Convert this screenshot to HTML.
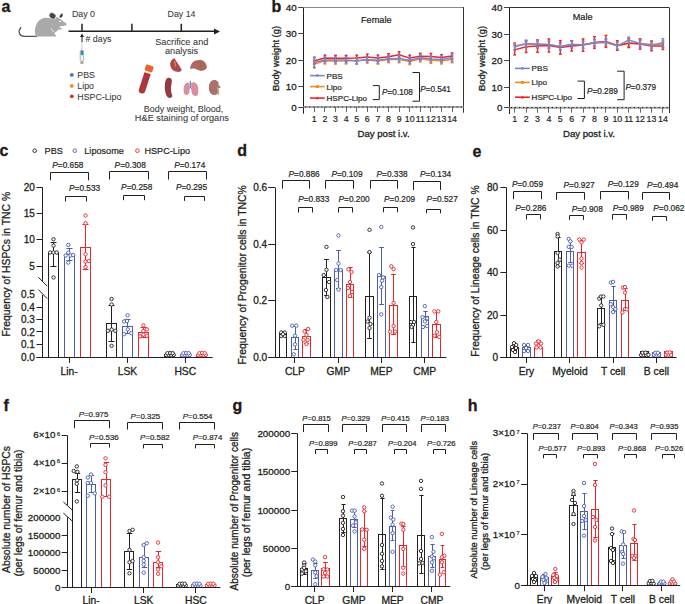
<!DOCTYPE html>
<html><head><meta charset="utf-8"><title>Figure</title>
<style>
html,body{margin:0;padding:0;background:#fff;width:685px;height:604px;overflow:hidden;}
svg{display:block;font-family:"Liberation Sans", sans-serif;}
</style></head><body>
<svg width="685" height="604" viewBox="0 0 685 604">
<rect width="685" height="604" fill="#fff"/>
<text x="1.50" y="12.30" font-size="16" text-anchor="start" font-weight="bold" fill="#231815" stroke="#231815" stroke-width="0.3" >a</text>
<path d="M36.5 36.3 L24.5 36.3 C19.5 36.3 17.5 31.5 20.8 27.6" stroke="#555" stroke-width="1.3" fill="none" stroke-linecap="round"/>
<path d="M36.4 36.6 C34.8 34.5 34.6 31 35.2 28.5 C36 23 39.5 18.5 44 17.9 C46 17.6 48 17.8 50 18.3 L55.5 18.8 C56 18 56.3 17.2 56.8 16.7 C59.5 18.5 63.5 21.5 66.6 23.8 C67.2 24.5 66.2 25.6 64.5 25.8 L59.5 26.5 C59.2 27.2 60.2 27.8 61.5 28.3 C62.5 28.8 62.2 29.6 61 29.5 L58.5 29.6 C57.5 30.5 56.5 31.5 55.2 32.3 C54.2 33.2 54.5 34.3 55.5 35 L56.2 35.4 L56.2 36.6 Z" fill="#a9a9a9"/>
<ellipse cx="52.5" cy="15.8" rx="3.6" ry="2.9" transform="rotate(35 52.5 15.8)" fill="#46464a" stroke="#fff" stroke-width="0.5"/>
<path d="M59.2 17.0 C59.5 15 61 13.6 62.6 13.4 C63.2 14.8 62.6 16.8 61.2 17.8 Z" fill="#46464a"/>
<ellipse cx="60.1" cy="21.4" rx="1.0" ry="0.7" fill="#fff"/>
<path d="M51.3 28.3 C51.6 30 52.5 31.2 54.0 31.7" stroke="#fff" stroke-width="0.7" fill="none"/>
<line x1="68.50" y1="31.30" x2="215.00" y2="31.30" stroke="#231f20" stroke-width="1.4" />
<path d="M214 28.4 L220 31.5 L214 34.6 Z" fill="#231f20"/>
<line x1="82.00" y1="23.80" x2="82.00" y2="31.30" stroke="#231f20" stroke-width="1.5" />
<line x1="131.90" y1="23.80" x2="131.90" y2="31.30" stroke="#231f20" stroke-width="1.5" />
<line x1="181.30" y1="23.80" x2="181.30" y2="31.30" stroke="#231f20" stroke-width="1.5" />
<text x="0" y="0" transform="translate(71.90,16.80) scale(0.9,1)" font-size="9.8" text-anchor="start" fill="#3a3a3a" stroke="#3a3a3a" stroke-width="0.08">Day 0</text>
<text x="0" y="0" transform="translate(167.60,16.80) scale(0.9,1)" font-size="9.8" text-anchor="start" fill="#3a3a3a" stroke="#3a3a3a" stroke-width="0.08">Day 14</text>
<line x1="82.00" y1="42.50" x2="82.00" y2="36.00" stroke="#231f20" stroke-width="1.0" />
<path d="M80.0 37 L82.0 33.6 L84.0 37 Z" fill="#231f20"/>
<text x="0" y="0" transform="translate(85.50,41.80) scale(0.9,1)" font-size="9.8" text-anchor="start" fill="#3a3a3a" stroke="#3a3a3a" stroke-width="0.08"># days</text>
<line x1="81.90" y1="44.00" x2="81.90" y2="50.50" stroke="#999" stroke-width="0.6" />
<rect x="80.2" y="50.4" width="3.4" height="11" rx="0.6" fill="#f2f2f2" stroke="#8a8a8a" stroke-width="0.6"/>
<rect x="80.7" y="50.9" width="2.4" height="4.2" fill="#2a8fb8"/>
<line x1="81.90" y1="61.40" x2="81.90" y2="62.80" stroke="#666" stroke-width="0.7" />
<line x1="80.30" y1="63.00" x2="83.50" y2="63.00" stroke="#555" stroke-width="0.9" />
<circle cx="71.80" cy="74.90" r="1.9" stroke="#3a7dc9" stroke-width="0" fill="#3a7dc9"/>
<text x="0" y="0" transform="translate(77.30,78.40) scale(0.9,1)" font-size="9.8" text-anchor="start" fill="#3a3a3a" stroke="#3a3a3a" stroke-width="0.08">PBS</text>
<circle cx="71.80" cy="85.90" r="1.9" stroke="#ef8a2c" stroke-width="0" fill="#ef8a2c"/>
<text x="0" y="0" transform="translate(77.30,89.40) scale(0.9,1)" font-size="9.8" text-anchor="start" fill="#3a3a3a" stroke="#3a3a3a" stroke-width="0.08">Lipo</text>
<circle cx="71.80" cy="96.30" r="1.9" stroke="#c9383a" stroke-width="0" fill="#c9383a"/>
<text x="0" y="0" transform="translate(77.30,99.80) scale(0.9,1)" font-size="9.8" text-anchor="start" fill="#3a3a3a" stroke="#3a3a3a" stroke-width="0.08">HSPC-Lipo</text>
<text x="0" y="0" transform="translate(181.80,44.90) scale(0.93,1)" font-size="9.9" text-anchor="middle" fill="#3a3a3a" stroke="#3a3a3a" stroke-width="0.08">Sacrifice and</text>
<text x="0" y="0" transform="translate(181.60,53.50) scale(0.93,1)" font-size="9.9" text-anchor="middle" fill="#3a3a3a" stroke="#3a3a3a" stroke-width="0.08">analysis</text>
<g transform="translate(145.3,80.3) rotate(18)"><rect x="-3.3" y="-10" width="6.6" height="23.6" rx="3.2" fill="#ab383d"/><rect x="-3.3" y="-10" width="6.6" height="2.6" fill="#f1e8e6"/><rect x="-4.0" y="-15.6" width="8.0" height="6.2" rx="1.2" fill="#e2682c"/></g>
<path d="M174.5 58.3 L181.6 69.6 C181.9 71.5 179.5 72.2 177 71.8 C173 71.2 170.3 68 170.2 64.5 C170.1 61.5 172 59 174.5 58.3 Z" fill="#ad474d"/>
<path d="M174.3 60.8 C175.2 62.5 175.6 64.5 175.2 66.5" stroke="#d99a52" stroke-width="1.1" fill="none"/>
<path d="M190 69 C190.5 65 192 62 195 60.8 C198 59.6 201.5 59.6 203.5 61 C205.5 62.5 207 65.5 206.8 67.5 C206.5 69.5 203.5 71 200.5 70.8 C198 70.5 196.5 69.2 194.5 68.6 C192.5 68.2 191 68.5 190 69 Z" fill="#a86a60"/>
<path d="M200.8 60.2 C201.2 63 200.8 66 200.2 70.5" stroke="#965a52" stroke-width="0.5" fill="none"/>
<path d="M168 77.8 C171.5 77 172.5 80 171.5 84 C170.5 88 170.8 92 172.3 95.5 C172.5 97.8 170 98.5 168 97.5 C165.5 95 164.6 90 164.8 85.5 C165 81 166 78.5 168 77.8 Z" fill="#8f3c42"/>
<path d="M189.4 83.2 C187.2 81.4 184.6 83.3 183.9 86.8 C183.3 90.4 183.5 94 185.5 94.8 C187.4 95.3 189.2 94.2 189.5 91.5 Z" fill="#d98f9b"/>
<path d="M191.1 83.0 C193.2 81.3 197.0 82.4 197.9 86.4 C198.7 90.4 198.5 95.0 196.5 95.8 C194.2 96.3 192.0 94.6 191.6 92.2 C191.3 90.2 191.6 88.2 191.1 86.2 Z" fill="#d98f9b"/>
<path d="M190.3 80.8 V87.4 M190.3 87.4 L188.9 88.6 M190.3 87.4 L191.8 88.6" stroke="#3f63b5" stroke-width="0.9" fill="none"/>
<path d="M213.8 80.0 C217.3 79.7 219.2 82.3 218.7 85.2 C218.3 86.4 217.2 86.8 217.3 87.8 C217.5 89 218.6 89.8 218.6 91.5 C218.5 94 216.2 95.2 213.5 94.9 C210.5 94.6 208.9 91.5 208.9 87.8 C208.9 83.5 210.6 80.3 213.8 80.0 Z" fill="#a8736a"/>
<path d="M217.6 86.4 L220.3 86.2" stroke="#d23a3a" stroke-width="0.9" fill="none"/>
<path d="M217.6 87.6 L220.3 87.6" stroke="#4a55b8" stroke-width="0.9" fill="none"/>
<path d="M218.4 88.3 L218.6 95.0" stroke="#d8b66a" stroke-width="1.4" fill="none"/>
<text x="0" y="0" transform="translate(183.40,111.70) scale(0.91,1)" font-size="9.9" text-anchor="middle" fill="#3a3a3a" stroke="#3a3a3a" stroke-width="0.08">Body weight, Blood,</text>
<text x="0" y="0" transform="translate(181.90,121.40) scale(0.93,1)" font-size="9.9" text-anchor="middle" fill="#3a3a3a" stroke="#3a3a3a" stroke-width="0.08">H&amp;E staining of organs</text>
<text x="271.40" y="11.90" font-size="16" text-anchor="start" font-weight="bold" fill="#231815" stroke="#231815" stroke-width="0.3" >b</text>
<line x1="303.50" y1="7.00" x2="303.50" y2="113.70" stroke="#231f20" stroke-width="1.0" />
<line x1="298.30" y1="7.50" x2="463.40" y2="7.50" stroke="#8a8a8a" stroke-width="1.0" />
<line x1="463.50" y1="7.00" x2="463.50" y2="112.70" stroke="#333" stroke-width="1.0" />
<line x1="303.50" y1="107.00" x2="463.40" y2="107.00" stroke="#a8a8a8" stroke-width="2.0" />
<line x1="305.00" y1="107.00" x2="463.40" y2="107.00" stroke="#231f20" stroke-width="1.2" stroke-dasharray="1.2 2.9"/>
<line x1="298.30" y1="7.50" x2="303.50" y2="7.50" stroke="#444" stroke-width="1.0" />
<text x="296.70" y="10.50" font-size="9.8" text-anchor="end" font-weight="normal" fill="#231f20" stroke="#231f20" stroke-width="0.3" >40</text>
<line x1="298.30" y1="33.50" x2="303.50" y2="33.50" stroke="#444" stroke-width="1.0" />
<text x="296.70" y="36.70" font-size="9.8" text-anchor="end" font-weight="normal" fill="#231f20" stroke="#231f20" stroke-width="0.3" >30</text>
<line x1="298.30" y1="60.50" x2="303.50" y2="60.50" stroke="#444" stroke-width="1.0" />
<text x="296.70" y="63.90" font-size="9.8" text-anchor="end" font-weight="normal" fill="#231f20" stroke="#231f20" stroke-width="0.3" >20</text>
<line x1="298.30" y1="86.50" x2="303.50" y2="86.50" stroke="#444" stroke-width="1.0" />
<text x="296.70" y="90.30" font-size="9.8" text-anchor="end" font-weight="normal" fill="#231f20" stroke="#231f20" stroke-width="0.3" >10</text>
<line x1="298.30" y1="107.50" x2="303.50" y2="107.50" stroke="#444" stroke-width="1.0" />
<text x="296.70" y="110.50" font-size="9.8" text-anchor="end" font-weight="normal" fill="#231f20" stroke="#231f20" stroke-width="0.3" >0</text>
<line x1="314.50" y1="107.00" x2="314.50" y2="112.00" stroke="#555" stroke-width="0.9" />
<text x="314.30" y="121.60" font-size="8.8" text-anchor="middle" font-weight="normal" fill="#231f20" stroke="#231f20" stroke-width="0.2" >1</text>
<line x1="324.50" y1="107.00" x2="324.50" y2="112.00" stroke="#555" stroke-width="0.9" />
<text x="324.90" y="121.60" font-size="8.8" text-anchor="middle" font-weight="normal" fill="#231f20" stroke="#231f20" stroke-width="0.2" >2</text>
<line x1="335.50" y1="107.00" x2="335.50" y2="112.00" stroke="#555" stroke-width="0.9" />
<text x="335.50" y="121.60" font-size="8.8" text-anchor="middle" font-weight="normal" fill="#231f20" stroke="#231f20" stroke-width="0.2" >3</text>
<line x1="346.50" y1="107.00" x2="346.50" y2="112.00" stroke="#555" stroke-width="0.9" />
<text x="346.10" y="121.60" font-size="8.8" text-anchor="middle" font-weight="normal" fill="#231f20" stroke="#231f20" stroke-width="0.2" >4</text>
<line x1="356.50" y1="107.00" x2="356.50" y2="112.00" stroke="#555" stroke-width="0.9" />
<text x="356.70" y="121.60" font-size="8.8" text-anchor="middle" font-weight="normal" fill="#231f20" stroke="#231f20" stroke-width="0.2" >5</text>
<line x1="367.50" y1="107.00" x2="367.50" y2="112.00" stroke="#555" stroke-width="0.9" />
<text x="367.30" y="121.60" font-size="8.8" text-anchor="middle" font-weight="normal" fill="#231f20" stroke="#231f20" stroke-width="0.2" >6</text>
<line x1="377.50" y1="107.00" x2="377.50" y2="112.00" stroke="#555" stroke-width="0.9" />
<text x="377.90" y="121.60" font-size="8.8" text-anchor="middle" font-weight="normal" fill="#231f20" stroke="#231f20" stroke-width="0.2" >7</text>
<line x1="388.50" y1="107.00" x2="388.50" y2="112.00" stroke="#555" stroke-width="0.9" />
<text x="388.50" y="121.60" font-size="8.8" text-anchor="middle" font-weight="normal" fill="#231f20" stroke="#231f20" stroke-width="0.2" >8</text>
<line x1="399.50" y1="107.00" x2="399.50" y2="112.00" stroke="#555" stroke-width="0.9" />
<text x="399.10" y="121.60" font-size="8.8" text-anchor="middle" font-weight="normal" fill="#231f20" stroke="#231f20" stroke-width="0.2" >9</text>
<line x1="409.50" y1="107.00" x2="409.50" y2="112.00" stroke="#555" stroke-width="0.9" />
<text x="409.70" y="121.60" font-size="8.8" text-anchor="middle" font-weight="normal" fill="#231f20" stroke="#231f20" stroke-width="0.2" >10</text>
<line x1="420.50" y1="107.00" x2="420.50" y2="112.00" stroke="#555" stroke-width="0.9" />
<text x="420.30" y="121.60" font-size="8.8" text-anchor="middle" font-weight="normal" fill="#231f20" stroke="#231f20" stroke-width="0.2" >11</text>
<line x1="430.50" y1="107.00" x2="430.50" y2="112.00" stroke="#555" stroke-width="0.9" />
<text x="430.90" y="121.60" font-size="8.8" text-anchor="middle" font-weight="normal" fill="#231f20" stroke="#231f20" stroke-width="0.2" >12</text>
<line x1="441.50" y1="107.00" x2="441.50" y2="112.00" stroke="#555" stroke-width="0.9" />
<text x="441.50" y="121.60" font-size="8.8" text-anchor="middle" font-weight="normal" fill="#231f20" stroke="#231f20" stroke-width="0.2" >13</text>
<line x1="452.50" y1="107.00" x2="452.50" y2="112.00" stroke="#555" stroke-width="0.9" />
<text x="452.10" y="121.60" font-size="8.8" text-anchor="middle" font-weight="normal" fill="#231f20" stroke="#231f20" stroke-width="0.2" >14</text>
<text x="383.60" y="137.20" font-size="9.6" text-anchor="middle" font-weight="normal" fill="#231f20" stroke="#231f20" stroke-width="0.3" >Day post i.v.</text>
<text x="376.30" y="22.50" font-size="9.2" text-anchor="middle" font-weight="normal" fill="#231f20" stroke="#231f20" stroke-width="0.2" >Female</text>
<text x="0" y="0" font-size="9.4" text-anchor="middle" fill="#231f20" stroke="#231f20" stroke-width="0.3" transform="translate(279.30,58.50) rotate(-90)">Body weight (g)</text>
<line x1="314.30" y1="60.80" x2="314.30" y2="67.20" stroke="#f5891f" stroke-width="1.4" />
<line x1="312.90" y1="60.80" x2="315.70" y2="60.80" stroke="#f5891f" stroke-width="1.4" />
<line x1="312.90" y1="67.20" x2="315.70" y2="67.20" stroke="#f5891f" stroke-width="1.4" />
<line x1="324.90" y1="57.60" x2="324.90" y2="64.00" stroke="#f5891f" stroke-width="1.4" />
<line x1="323.50" y1="57.60" x2="326.30" y2="57.60" stroke="#f5891f" stroke-width="1.4" />
<line x1="323.50" y1="64.00" x2="326.30" y2="64.00" stroke="#f5891f" stroke-width="1.4" />
<line x1="335.50" y1="57.80" x2="335.50" y2="64.20" stroke="#f5891f" stroke-width="1.4" />
<line x1="334.10" y1="57.80" x2="336.90" y2="57.80" stroke="#f5891f" stroke-width="1.4" />
<line x1="334.10" y1="64.20" x2="336.90" y2="64.20" stroke="#f5891f" stroke-width="1.4" />
<line x1="346.10" y1="57.60" x2="346.10" y2="64.00" stroke="#f5891f" stroke-width="1.4" />
<line x1="344.70" y1="57.60" x2="347.50" y2="57.60" stroke="#f5891f" stroke-width="1.4" />
<line x1="344.70" y1="64.00" x2="347.50" y2="64.00" stroke="#f5891f" stroke-width="1.4" />
<line x1="356.70" y1="57.30" x2="356.70" y2="63.70" stroke="#f5891f" stroke-width="1.4" />
<line x1="355.30" y1="57.30" x2="358.10" y2="57.30" stroke="#f5891f" stroke-width="1.4" />
<line x1="355.30" y1="63.70" x2="358.10" y2="63.70" stroke="#f5891f" stroke-width="1.4" />
<line x1="367.30" y1="56.80" x2="367.30" y2="63.20" stroke="#f5891f" stroke-width="1.4" />
<line x1="365.90" y1="56.80" x2="368.70" y2="56.80" stroke="#f5891f" stroke-width="1.4" />
<line x1="365.90" y1="63.20" x2="368.70" y2="63.20" stroke="#f5891f" stroke-width="1.4" />
<line x1="377.90" y1="57.80" x2="377.90" y2="64.20" stroke="#f5891f" stroke-width="1.4" />
<line x1="376.50" y1="57.80" x2="379.30" y2="57.80" stroke="#f5891f" stroke-width="1.4" />
<line x1="376.50" y1="64.20" x2="379.30" y2="64.20" stroke="#f5891f" stroke-width="1.4" />
<line x1="388.50" y1="56.30" x2="388.50" y2="62.70" stroke="#f5891f" stroke-width="1.4" />
<line x1="387.10" y1="56.30" x2="389.90" y2="56.30" stroke="#f5891f" stroke-width="1.4" />
<line x1="387.10" y1="62.70" x2="389.90" y2="62.70" stroke="#f5891f" stroke-width="1.4" />
<line x1="399.10" y1="56.30" x2="399.10" y2="62.70" stroke="#f5891f" stroke-width="1.4" />
<line x1="397.70" y1="56.30" x2="400.50" y2="56.30" stroke="#f5891f" stroke-width="1.4" />
<line x1="397.70" y1="62.70" x2="400.50" y2="62.70" stroke="#f5891f" stroke-width="1.4" />
<line x1="409.70" y1="58.20" x2="409.70" y2="64.60" stroke="#f5891f" stroke-width="1.4" />
<line x1="408.30" y1="58.20" x2="411.10" y2="58.20" stroke="#f5891f" stroke-width="1.4" />
<line x1="408.30" y1="64.60" x2="411.10" y2="64.60" stroke="#f5891f" stroke-width="1.4" />
<line x1="420.30" y1="55.60" x2="420.30" y2="62.00" stroke="#f5891f" stroke-width="1.4" />
<line x1="418.90" y1="55.60" x2="421.70" y2="55.60" stroke="#f5891f" stroke-width="1.4" />
<line x1="418.90" y1="62.00" x2="421.70" y2="62.00" stroke="#f5891f" stroke-width="1.4" />
<line x1="430.90" y1="57.00" x2="430.90" y2="63.40" stroke="#f5891f" stroke-width="1.4" />
<line x1="429.50" y1="57.00" x2="432.30" y2="57.00" stroke="#f5891f" stroke-width="1.4" />
<line x1="429.50" y1="63.40" x2="432.30" y2="63.40" stroke="#f5891f" stroke-width="1.4" />
<line x1="441.50" y1="57.60" x2="441.50" y2="64.00" stroke="#f5891f" stroke-width="1.4" />
<line x1="440.10" y1="57.60" x2="442.90" y2="57.60" stroke="#f5891f" stroke-width="1.4" />
<line x1="440.10" y1="64.00" x2="442.90" y2="64.00" stroke="#f5891f" stroke-width="1.4" />
<line x1="452.10" y1="56.40" x2="452.10" y2="62.80" stroke="#f5891f" stroke-width="1.4" />
<line x1="450.70" y1="56.40" x2="453.50" y2="56.40" stroke="#f5891f" stroke-width="1.4" />
<line x1="450.70" y1="62.80" x2="453.50" y2="62.80" stroke="#f5891f" stroke-width="1.4" />
<polyline points="314.30,64.00 324.90,60.80 335.50,61.00 346.10,60.80 356.70,60.50 367.30,60.00 377.90,61.00 388.50,59.50 399.10,59.50 409.70,61.40 420.30,58.80 430.90,60.20 441.50,60.80 452.10,59.60" stroke="#f5891f" stroke-width="1.5" fill="none" />
<circle cx="314.30" cy="64.00" r="1.1" stroke="#f5891f" stroke-width="0" fill="#f5891f"/>
<circle cx="324.90" cy="60.80" r="1.1" stroke="#f5891f" stroke-width="0" fill="#f5891f"/>
<circle cx="335.50" cy="61.00" r="1.1" stroke="#f5891f" stroke-width="0" fill="#f5891f"/>
<circle cx="346.10" cy="60.80" r="1.1" stroke="#f5891f" stroke-width="0" fill="#f5891f"/>
<circle cx="356.70" cy="60.50" r="1.1" stroke="#f5891f" stroke-width="0" fill="#f5891f"/>
<circle cx="367.30" cy="60.00" r="1.1" stroke="#f5891f" stroke-width="0" fill="#f5891f"/>
<circle cx="377.90" cy="61.00" r="1.1" stroke="#f5891f" stroke-width="0" fill="#f5891f"/>
<circle cx="388.50" cy="59.50" r="1.1" stroke="#f5891f" stroke-width="0" fill="#f5891f"/>
<circle cx="399.10" cy="59.50" r="1.1" stroke="#f5891f" stroke-width="0" fill="#f5891f"/>
<circle cx="409.70" cy="61.40" r="1.1" stroke="#f5891f" stroke-width="0" fill="#f5891f"/>
<circle cx="420.30" cy="58.80" r="1.1" stroke="#f5891f" stroke-width="0" fill="#f5891f"/>
<circle cx="430.90" cy="60.20" r="1.1" stroke="#f5891f" stroke-width="0" fill="#f5891f"/>
<circle cx="441.50" cy="60.80" r="1.1" stroke="#f5891f" stroke-width="0" fill="#f5891f"/>
<circle cx="452.10" cy="59.60" r="1.1" stroke="#f5891f" stroke-width="0" fill="#f5891f"/>
<line x1="314.30" y1="57.80" x2="314.30" y2="63.80" stroke="#e8262b" stroke-width="1.4" />
<line x1="312.90" y1="57.80" x2="315.70" y2="57.80" stroke="#e8262b" stroke-width="1.4" />
<line x1="312.90" y1="63.80" x2="315.70" y2="63.80" stroke="#e8262b" stroke-width="1.4" />
<line x1="324.90" y1="55.10" x2="324.90" y2="61.10" stroke="#e8262b" stroke-width="1.4" />
<line x1="323.50" y1="55.10" x2="326.30" y2="55.10" stroke="#e8262b" stroke-width="1.4" />
<line x1="323.50" y1="61.10" x2="326.30" y2="61.10" stroke="#e8262b" stroke-width="1.4" />
<line x1="335.50" y1="55.30" x2="335.50" y2="61.30" stroke="#e8262b" stroke-width="1.4" />
<line x1="334.10" y1="55.30" x2="336.90" y2="55.30" stroke="#e8262b" stroke-width="1.4" />
<line x1="334.10" y1="61.30" x2="336.90" y2="61.30" stroke="#e8262b" stroke-width="1.4" />
<line x1="346.10" y1="55.30" x2="346.10" y2="61.30" stroke="#e8262b" stroke-width="1.4" />
<line x1="344.70" y1="55.30" x2="347.50" y2="55.30" stroke="#e8262b" stroke-width="1.4" />
<line x1="344.70" y1="61.30" x2="347.50" y2="61.30" stroke="#e8262b" stroke-width="1.4" />
<line x1="356.70" y1="55.10" x2="356.70" y2="61.10" stroke="#e8262b" stroke-width="1.4" />
<line x1="355.30" y1="55.10" x2="358.10" y2="55.10" stroke="#e8262b" stroke-width="1.4" />
<line x1="355.30" y1="61.10" x2="358.10" y2="61.10" stroke="#e8262b" stroke-width="1.4" />
<line x1="367.30" y1="54.10" x2="367.30" y2="60.10" stroke="#e8262b" stroke-width="1.4" />
<line x1="365.90" y1="54.10" x2="368.70" y2="54.10" stroke="#e8262b" stroke-width="1.4" />
<line x1="365.90" y1="60.10" x2="368.70" y2="60.10" stroke="#e8262b" stroke-width="1.4" />
<line x1="377.90" y1="55.00" x2="377.90" y2="61.00" stroke="#e8262b" stroke-width="1.4" />
<line x1="376.50" y1="55.00" x2="379.30" y2="55.00" stroke="#e8262b" stroke-width="1.4" />
<line x1="376.50" y1="61.00" x2="379.30" y2="61.00" stroke="#e8262b" stroke-width="1.4" />
<line x1="388.50" y1="53.70" x2="388.50" y2="59.70" stroke="#e8262b" stroke-width="1.4" />
<line x1="387.10" y1="53.70" x2="389.90" y2="53.70" stroke="#e8262b" stroke-width="1.4" />
<line x1="387.10" y1="59.70" x2="389.90" y2="59.70" stroke="#e8262b" stroke-width="1.4" />
<line x1="399.10" y1="51.70" x2="399.10" y2="57.70" stroke="#e8262b" stroke-width="1.4" />
<line x1="397.70" y1="51.70" x2="400.50" y2="51.70" stroke="#e8262b" stroke-width="1.4" />
<line x1="397.70" y1="57.70" x2="400.50" y2="57.70" stroke="#e8262b" stroke-width="1.4" />
<line x1="409.70" y1="55.10" x2="409.70" y2="61.10" stroke="#e8262b" stroke-width="1.4" />
<line x1="408.30" y1="55.10" x2="411.10" y2="55.10" stroke="#e8262b" stroke-width="1.4" />
<line x1="408.30" y1="61.10" x2="411.10" y2="61.10" stroke="#e8262b" stroke-width="1.4" />
<line x1="420.30" y1="53.30" x2="420.30" y2="59.30" stroke="#e8262b" stroke-width="1.4" />
<line x1="418.90" y1="53.30" x2="421.70" y2="53.30" stroke="#e8262b" stroke-width="1.4" />
<line x1="418.90" y1="59.30" x2="421.70" y2="59.30" stroke="#e8262b" stroke-width="1.4" />
<line x1="430.90" y1="53.50" x2="430.90" y2="59.50" stroke="#e8262b" stroke-width="1.4" />
<line x1="429.50" y1="53.50" x2="432.30" y2="53.50" stroke="#e8262b" stroke-width="1.4" />
<line x1="429.50" y1="59.50" x2="432.30" y2="59.50" stroke="#e8262b" stroke-width="1.4" />
<line x1="441.50" y1="54.60" x2="441.50" y2="60.60" stroke="#e8262b" stroke-width="1.4" />
<line x1="440.10" y1="54.60" x2="442.90" y2="54.60" stroke="#e8262b" stroke-width="1.4" />
<line x1="440.10" y1="60.60" x2="442.90" y2="60.60" stroke="#e8262b" stroke-width="1.4" />
<line x1="452.10" y1="52.90" x2="452.10" y2="58.90" stroke="#e8262b" stroke-width="1.4" />
<line x1="450.70" y1="52.90" x2="453.50" y2="52.90" stroke="#e8262b" stroke-width="1.4" />
<line x1="450.70" y1="58.90" x2="453.50" y2="58.90" stroke="#e8262b" stroke-width="1.4" />
<polyline points="314.30,60.80 324.90,58.10 335.50,58.30 346.10,58.30 356.70,58.10 367.30,57.10 377.90,58.00 388.50,56.70 399.10,54.70 409.70,58.10 420.30,56.30 430.90,56.50 441.50,57.60 452.10,55.90" stroke="#e8262b" stroke-width="1.5" fill="none" />
<circle cx="314.30" cy="60.80" r="1.1" stroke="#e8262b" stroke-width="0" fill="#e8262b"/>
<circle cx="324.90" cy="58.10" r="1.1" stroke="#e8262b" stroke-width="0" fill="#e8262b"/>
<circle cx="335.50" cy="58.30" r="1.1" stroke="#e8262b" stroke-width="0" fill="#e8262b"/>
<circle cx="346.10" cy="58.30" r="1.1" stroke="#e8262b" stroke-width="0" fill="#e8262b"/>
<circle cx="356.70" cy="58.10" r="1.1" stroke="#e8262b" stroke-width="0" fill="#e8262b"/>
<circle cx="367.30" cy="57.10" r="1.1" stroke="#e8262b" stroke-width="0" fill="#e8262b"/>
<circle cx="377.90" cy="58.00" r="1.1" stroke="#e8262b" stroke-width="0" fill="#e8262b"/>
<circle cx="388.50" cy="56.70" r="1.1" stroke="#e8262b" stroke-width="0" fill="#e8262b"/>
<circle cx="399.10" cy="54.70" r="1.1" stroke="#e8262b" stroke-width="0" fill="#e8262b"/>
<circle cx="409.70" cy="58.10" r="1.1" stroke="#e8262b" stroke-width="0" fill="#e8262b"/>
<circle cx="420.30" cy="56.30" r="1.1" stroke="#e8262b" stroke-width="0" fill="#e8262b"/>
<circle cx="430.90" cy="56.50" r="1.1" stroke="#e8262b" stroke-width="0" fill="#e8262b"/>
<circle cx="441.50" cy="57.60" r="1.1" stroke="#e8262b" stroke-width="0" fill="#e8262b"/>
<circle cx="452.10" cy="55.90" r="1.1" stroke="#e8262b" stroke-width="0" fill="#e8262b"/>
<line x1="314.30" y1="57.00" x2="314.30" y2="68.00" stroke="#7b86cf" stroke-width="1.4" />
<line x1="312.90" y1="57.00" x2="315.70" y2="57.00" stroke="#7b86cf" stroke-width="1.4" />
<line x1="312.90" y1="68.00" x2="315.70" y2="68.00" stroke="#7b86cf" stroke-width="1.4" />
<line x1="324.90" y1="57.00" x2="324.90" y2="63.00" stroke="#7b86cf" stroke-width="1.4" />
<line x1="323.50" y1="57.00" x2="326.30" y2="57.00" stroke="#7b86cf" stroke-width="1.4" />
<line x1="323.50" y1="63.00" x2="326.30" y2="63.00" stroke="#7b86cf" stroke-width="1.4" />
<line x1="335.50" y1="57.00" x2="335.50" y2="63.00" stroke="#7b86cf" stroke-width="1.4" />
<line x1="334.10" y1="57.00" x2="336.90" y2="57.00" stroke="#7b86cf" stroke-width="1.4" />
<line x1="334.10" y1="63.00" x2="336.90" y2="63.00" stroke="#7b86cf" stroke-width="1.4" />
<line x1="346.10" y1="57.00" x2="346.10" y2="63.00" stroke="#7b86cf" stroke-width="1.4" />
<line x1="344.70" y1="57.00" x2="347.50" y2="57.00" stroke="#7b86cf" stroke-width="1.4" />
<line x1="344.70" y1="63.00" x2="347.50" y2="63.00" stroke="#7b86cf" stroke-width="1.4" />
<line x1="356.70" y1="57.80" x2="356.70" y2="64.20" stroke="#7b86cf" stroke-width="1.4" />
<line x1="355.30" y1="57.80" x2="358.10" y2="57.80" stroke="#7b86cf" stroke-width="1.4" />
<line x1="355.30" y1="64.20" x2="358.10" y2="64.20" stroke="#7b86cf" stroke-width="1.4" />
<line x1="367.30" y1="57.00" x2="367.30" y2="62.00" stroke="#7b86cf" stroke-width="1.4" />
<line x1="365.90" y1="57.00" x2="368.70" y2="57.00" stroke="#7b86cf" stroke-width="1.4" />
<line x1="365.90" y1="62.00" x2="368.70" y2="62.00" stroke="#7b86cf" stroke-width="1.4" />
<line x1="377.90" y1="57.30" x2="377.90" y2="63.30" stroke="#7b86cf" stroke-width="1.4" />
<line x1="376.50" y1="57.30" x2="379.30" y2="57.30" stroke="#7b86cf" stroke-width="1.4" />
<line x1="376.50" y1="63.30" x2="379.30" y2="63.30" stroke="#7b86cf" stroke-width="1.4" />
<line x1="388.50" y1="55.80" x2="388.50" y2="61.80" stroke="#7b86cf" stroke-width="1.4" />
<line x1="387.10" y1="55.80" x2="389.90" y2="55.80" stroke="#7b86cf" stroke-width="1.4" />
<line x1="387.10" y1="61.80" x2="389.90" y2="61.80" stroke="#7b86cf" stroke-width="1.4" />
<line x1="399.10" y1="54.90" x2="399.10" y2="61.90" stroke="#7b86cf" stroke-width="1.4" />
<line x1="397.70" y1="54.90" x2="400.50" y2="54.90" stroke="#7b86cf" stroke-width="1.4" />
<line x1="397.70" y1="61.90" x2="400.50" y2="61.90" stroke="#7b86cf" stroke-width="1.4" />
<line x1="409.70" y1="57.00" x2="409.70" y2="63.40" stroke="#7b86cf" stroke-width="1.4" />
<line x1="408.30" y1="57.00" x2="411.10" y2="57.00" stroke="#7b86cf" stroke-width="1.4" />
<line x1="408.30" y1="63.40" x2="411.10" y2="63.40" stroke="#7b86cf" stroke-width="1.4" />
<line x1="420.30" y1="54.80" x2="420.30" y2="60.80" stroke="#7b86cf" stroke-width="1.4" />
<line x1="418.90" y1="54.80" x2="421.70" y2="54.80" stroke="#7b86cf" stroke-width="1.4" />
<line x1="418.90" y1="60.80" x2="421.70" y2="60.80" stroke="#7b86cf" stroke-width="1.4" />
<line x1="430.90" y1="56.00" x2="430.90" y2="62.00" stroke="#7b86cf" stroke-width="1.4" />
<line x1="429.50" y1="56.00" x2="432.30" y2="56.00" stroke="#7b86cf" stroke-width="1.4" />
<line x1="429.50" y1="62.00" x2="432.30" y2="62.00" stroke="#7b86cf" stroke-width="1.4" />
<line x1="441.50" y1="56.60" x2="441.50" y2="62.60" stroke="#7b86cf" stroke-width="1.4" />
<line x1="440.10" y1="56.60" x2="442.90" y2="56.60" stroke="#7b86cf" stroke-width="1.4" />
<line x1="440.10" y1="62.60" x2="442.90" y2="62.60" stroke="#7b86cf" stroke-width="1.4" />
<line x1="452.10" y1="54.00" x2="452.10" y2="61.60" stroke="#7b86cf" stroke-width="1.4" />
<line x1="450.70" y1="54.00" x2="453.50" y2="54.00" stroke="#7b86cf" stroke-width="1.4" />
<line x1="450.70" y1="61.60" x2="453.50" y2="61.60" stroke="#7b86cf" stroke-width="1.4" />
<polyline points="314.30,62.50 324.90,60.00 335.50,60.00 346.10,60.00 356.70,61.00 367.30,59.50 377.90,60.30 388.50,58.80 399.10,58.40 409.70,60.20 420.30,57.80 430.90,59.00 441.50,59.60 452.10,57.80" stroke="#7b86cf" stroke-width="1.5" fill="none" />
<circle cx="314.30" cy="62.50" r="1.1" stroke="#7b86cf" stroke-width="0" fill="#7b86cf"/>
<circle cx="324.90" cy="60.00" r="1.1" stroke="#7b86cf" stroke-width="0" fill="#7b86cf"/>
<circle cx="335.50" cy="60.00" r="1.1" stroke="#7b86cf" stroke-width="0" fill="#7b86cf"/>
<circle cx="346.10" cy="60.00" r="1.1" stroke="#7b86cf" stroke-width="0" fill="#7b86cf"/>
<circle cx="356.70" cy="61.00" r="1.1" stroke="#7b86cf" stroke-width="0" fill="#7b86cf"/>
<circle cx="367.30" cy="59.50" r="1.1" stroke="#7b86cf" stroke-width="0" fill="#7b86cf"/>
<circle cx="377.90" cy="60.30" r="1.1" stroke="#7b86cf" stroke-width="0" fill="#7b86cf"/>
<circle cx="388.50" cy="58.80" r="1.1" stroke="#7b86cf" stroke-width="0" fill="#7b86cf"/>
<circle cx="399.10" cy="58.40" r="1.1" stroke="#7b86cf" stroke-width="0" fill="#7b86cf"/>
<circle cx="409.70" cy="60.20" r="1.1" stroke="#7b86cf" stroke-width="0" fill="#7b86cf"/>
<circle cx="420.30" cy="57.80" r="1.1" stroke="#7b86cf" stroke-width="0" fill="#7b86cf"/>
<circle cx="430.90" cy="59.00" r="1.1" stroke="#7b86cf" stroke-width="0" fill="#7b86cf"/>
<circle cx="441.50" cy="59.60" r="1.1" stroke="#7b86cf" stroke-width="0" fill="#7b86cf"/>
<circle cx="452.10" cy="57.80" r="1.1" stroke="#7b86cf" stroke-width="0" fill="#7b86cf"/>
<line x1="310.00" y1="75.60" x2="324.70" y2="75.60" stroke="#7b86cf" stroke-width="1.6" />
<circle cx="317.35" cy="75.60" r="1.3" stroke="#7b86cf" stroke-width="0" fill="#7b86cf"/>
<text x="326.50" y="78.50" font-size="8.1" text-anchor="start" font-weight="normal" fill="#231f20" stroke="#231f20" stroke-width="0.2" >PBS</text>
<line x1="310.00" y1="86.60" x2="324.70" y2="86.60" stroke="#f5891f" stroke-width="1.6" />
<rect x="315.95" y="85.20" width="2.8" height="2.8" fill="#f5891f"/>
<text x="326.50" y="89.50" font-size="8.1" text-anchor="start" font-weight="normal" fill="#231f20" stroke="#231f20" stroke-width="0.2" >Lipo</text>
<line x1="310.00" y1="98.10" x2="324.70" y2="98.10" stroke="#e8262b" stroke-width="1.6" />
<path d="M315.75 99.30 L317.35 96.50 L318.95 99.30 Z" fill="#e8262b"/>
<text x="326.50" y="101.00" font-size="8.1" text-anchor="start" font-weight="normal" fill="#231f20" stroke="#231f20" stroke-width="0.2" >HSPC-Lipo</text>
<polyline points="372.80,85.60 379.30,85.60 379.30,99.60 372.80,99.60" stroke="#231f20" stroke-width="1.0" fill="none" />
<text x="382.10" y="95.00" font-size="8.2" text-anchor="start" fill="#231f20" stroke="#231f20" stroke-width="0.2"><tspan font-style="italic">P</tspan>=0.108</text>
<polyline points="412.50,72.50 419.50,72.50 419.50,101.20 412.50,101.20" stroke="#231f20" stroke-width="1.0" fill="none" />
<text x="420.20" y="91.50" font-size="8.2" text-anchor="start" fill="#231f20" stroke="#231f20" stroke-width="0.2"><tspan font-style="italic">P</tspan>=0.541</text>
<line x1="509.50" y1="7.40" x2="509.50" y2="114.00" stroke="#231f20" stroke-width="1.0" />
<line x1="504.10" y1="7.50" x2="669.00" y2="7.50" stroke="#333" stroke-width="1.0" />
<line x1="669.50" y1="7.40" x2="669.50" y2="113.00" stroke="#333" stroke-width="1.0" />
<line x1="509.30" y1="107.70" x2="669.00" y2="107.70" stroke="#a8a8a8" stroke-width="2.0" />
<line x1="510.80" y1="107.70" x2="669.00" y2="107.70" stroke="#231f20" stroke-width="1.2" stroke-dasharray="1.2 2.9"/>
<line x1="504.10" y1="7.50" x2="509.30" y2="7.50" stroke="#444" stroke-width="1.0" />
<text x="502.50" y="10.90" font-size="9.8" text-anchor="end" font-weight="normal" fill="#231f20" stroke="#231f20" stroke-width="0.3" >40</text>
<line x1="504.10" y1="34.50" x2="509.30" y2="34.50" stroke="#444" stroke-width="1.0" />
<text x="502.50" y="37.80" font-size="9.8" text-anchor="end" font-weight="normal" fill="#231f20" stroke="#231f20" stroke-width="0.3" >30</text>
<line x1="504.10" y1="60.50" x2="509.30" y2="60.50" stroke="#444" stroke-width="1.0" />
<text x="502.50" y="64.10" font-size="9.8" text-anchor="end" font-weight="normal" fill="#231f20" stroke="#231f20" stroke-width="0.3" >20</text>
<line x1="504.10" y1="87.50" x2="509.30" y2="87.50" stroke="#444" stroke-width="1.0" />
<text x="502.50" y="90.80" font-size="9.8" text-anchor="end" font-weight="normal" fill="#231f20" stroke="#231f20" stroke-width="0.3" >10</text>
<line x1="504.10" y1="107.50" x2="509.30" y2="107.50" stroke="#444" stroke-width="1.0" />
<text x="502.50" y="111.20" font-size="9.8" text-anchor="end" font-weight="normal" fill="#231f20" stroke="#231f20" stroke-width="0.3" >0</text>
<line x1="514.50" y1="107.70" x2="514.50" y2="112.70" stroke="#555" stroke-width="0.9" />
<text x="514.70" y="122.30" font-size="8.8" text-anchor="middle" font-weight="normal" fill="#231f20" stroke="#231f20" stroke-width="0.2" >1</text>
<line x1="526.50" y1="107.70" x2="526.50" y2="112.70" stroke="#555" stroke-width="0.9" />
<text x="526.10" y="122.30" font-size="8.8" text-anchor="middle" font-weight="normal" fill="#231f20" stroke="#231f20" stroke-width="0.2" >2</text>
<line x1="537.50" y1="107.70" x2="537.50" y2="112.70" stroke="#555" stroke-width="0.9" />
<text x="537.50" y="122.30" font-size="8.8" text-anchor="middle" font-weight="normal" fill="#231f20" stroke="#231f20" stroke-width="0.2" >3</text>
<line x1="548.50" y1="107.70" x2="548.50" y2="112.70" stroke="#555" stroke-width="0.9" />
<text x="548.90" y="122.30" font-size="8.8" text-anchor="middle" font-weight="normal" fill="#231f20" stroke="#231f20" stroke-width="0.2" >4</text>
<line x1="560.50" y1="107.70" x2="560.50" y2="112.70" stroke="#555" stroke-width="0.9" />
<text x="560.30" y="122.30" font-size="8.8" text-anchor="middle" font-weight="normal" fill="#231f20" stroke="#231f20" stroke-width="0.2" >5</text>
<line x1="571.50" y1="107.70" x2="571.50" y2="112.70" stroke="#555" stroke-width="0.9" />
<text x="571.70" y="122.30" font-size="8.8" text-anchor="middle" font-weight="normal" fill="#231f20" stroke="#231f20" stroke-width="0.2" >6</text>
<line x1="583.50" y1="107.70" x2="583.50" y2="112.70" stroke="#555" stroke-width="0.9" />
<text x="583.10" y="122.30" font-size="8.8" text-anchor="middle" font-weight="normal" fill="#231f20" stroke="#231f20" stroke-width="0.2" >7</text>
<line x1="594.50" y1="107.70" x2="594.50" y2="112.70" stroke="#555" stroke-width="0.9" />
<text x="594.50" y="122.30" font-size="8.8" text-anchor="middle" font-weight="normal" fill="#231f20" stroke="#231f20" stroke-width="0.2" >8</text>
<line x1="605.50" y1="107.70" x2="605.50" y2="112.70" stroke="#555" stroke-width="0.9" />
<text x="605.90" y="122.30" font-size="8.8" text-anchor="middle" font-weight="normal" fill="#231f20" stroke="#231f20" stroke-width="0.2" >9</text>
<line x1="617.50" y1="107.70" x2="617.50" y2="112.70" stroke="#555" stroke-width="0.9" />
<text x="617.30" y="122.30" font-size="8.8" text-anchor="middle" font-weight="normal" fill="#231f20" stroke="#231f20" stroke-width="0.2" >10</text>
<line x1="628.50" y1="107.70" x2="628.50" y2="112.70" stroke="#555" stroke-width="0.9" />
<text x="628.70" y="122.30" font-size="8.8" text-anchor="middle" font-weight="normal" fill="#231f20" stroke="#231f20" stroke-width="0.2" >11</text>
<line x1="640.50" y1="107.70" x2="640.50" y2="112.70" stroke="#555" stroke-width="0.9" />
<text x="640.10" y="122.30" font-size="8.8" text-anchor="middle" font-weight="normal" fill="#231f20" stroke="#231f20" stroke-width="0.2" >12</text>
<line x1="651.50" y1="107.70" x2="651.50" y2="112.70" stroke="#555" stroke-width="0.9" />
<text x="651.50" y="122.30" font-size="8.8" text-anchor="middle" font-weight="normal" fill="#231f20" stroke="#231f20" stroke-width="0.2" >13</text>
<line x1="662.50" y1="107.70" x2="662.50" y2="112.70" stroke="#555" stroke-width="0.9" />
<text x="662.90" y="122.30" font-size="8.8" text-anchor="middle" font-weight="normal" fill="#231f20" stroke="#231f20" stroke-width="0.2" >14</text>
<text x="589.00" y="137.20" font-size="9.6" text-anchor="middle" font-weight="normal" fill="#231f20" stroke="#231f20" stroke-width="0.3" >Day post i.v.</text>
<text x="582.60" y="20.40" font-size="9.2" text-anchor="middle" font-weight="normal" fill="#231f20" stroke="#231f20" stroke-width="0.2" >Male</text>
<text x="0" y="0" font-size="9.4" text-anchor="middle" fill="#231f20" stroke="#231f20" stroke-width="0.3" transform="translate(485.20,58.50) rotate(-90)">Body weight (g)</text>
<line x1="514.70" y1="42.60" x2="514.70" y2="49.40" stroke="#f5891f" stroke-width="1.4" />
<line x1="513.30" y1="42.60" x2="516.10" y2="42.60" stroke="#f5891f" stroke-width="1.4" />
<line x1="513.30" y1="49.40" x2="516.10" y2="49.40" stroke="#f5891f" stroke-width="1.4" />
<line x1="526.10" y1="40.60" x2="526.10" y2="47.40" stroke="#f5891f" stroke-width="1.4" />
<line x1="524.70" y1="40.60" x2="527.50" y2="40.60" stroke="#f5891f" stroke-width="1.4" />
<line x1="524.70" y1="47.40" x2="527.50" y2="47.40" stroke="#f5891f" stroke-width="1.4" />
<line x1="537.50" y1="41.10" x2="537.50" y2="47.90" stroke="#f5891f" stroke-width="1.4" />
<line x1="536.10" y1="41.10" x2="538.90" y2="41.10" stroke="#f5891f" stroke-width="1.4" />
<line x1="536.10" y1="47.90" x2="538.90" y2="47.90" stroke="#f5891f" stroke-width="1.4" />
<line x1="548.90" y1="41.40" x2="548.90" y2="48.20" stroke="#f5891f" stroke-width="1.4" />
<line x1="547.50" y1="41.40" x2="550.30" y2="41.40" stroke="#f5891f" stroke-width="1.4" />
<line x1="547.50" y1="48.20" x2="550.30" y2="48.20" stroke="#f5891f" stroke-width="1.4" />
<line x1="560.30" y1="42.80" x2="560.30" y2="49.60" stroke="#f5891f" stroke-width="1.4" />
<line x1="558.90" y1="42.80" x2="561.70" y2="42.80" stroke="#f5891f" stroke-width="1.4" />
<line x1="558.90" y1="49.60" x2="561.70" y2="49.60" stroke="#f5891f" stroke-width="1.4" />
<line x1="571.70" y1="41.40" x2="571.70" y2="48.20" stroke="#f5891f" stroke-width="1.4" />
<line x1="570.30" y1="41.40" x2="573.10" y2="41.40" stroke="#f5891f" stroke-width="1.4" />
<line x1="570.30" y1="48.20" x2="573.10" y2="48.20" stroke="#f5891f" stroke-width="1.4" />
<line x1="583.10" y1="41.20" x2="583.10" y2="48.00" stroke="#f5891f" stroke-width="1.4" />
<line x1="581.70" y1="41.20" x2="584.50" y2="41.20" stroke="#f5891f" stroke-width="1.4" />
<line x1="581.70" y1="48.00" x2="584.50" y2="48.00" stroke="#f5891f" stroke-width="1.4" />
<line x1="594.50" y1="39.60" x2="594.50" y2="46.40" stroke="#f5891f" stroke-width="1.4" />
<line x1="593.10" y1="39.60" x2="595.90" y2="39.60" stroke="#f5891f" stroke-width="1.4" />
<line x1="593.10" y1="46.40" x2="595.90" y2="46.40" stroke="#f5891f" stroke-width="1.4" />
<line x1="605.90" y1="39.10" x2="605.90" y2="45.90" stroke="#f5891f" stroke-width="1.4" />
<line x1="604.50" y1="39.10" x2="607.30" y2="39.10" stroke="#f5891f" stroke-width="1.4" />
<line x1="604.50" y1="45.90" x2="607.30" y2="45.90" stroke="#f5891f" stroke-width="1.4" />
<line x1="617.30" y1="42.40" x2="617.30" y2="49.20" stroke="#f5891f" stroke-width="1.4" />
<line x1="615.90" y1="42.40" x2="618.70" y2="42.40" stroke="#f5891f" stroke-width="1.4" />
<line x1="615.90" y1="49.20" x2="618.70" y2="49.20" stroke="#f5891f" stroke-width="1.4" />
<line x1="628.70" y1="40.00" x2="628.70" y2="46.80" stroke="#f5891f" stroke-width="1.4" />
<line x1="627.30" y1="40.00" x2="630.10" y2="40.00" stroke="#f5891f" stroke-width="1.4" />
<line x1="627.30" y1="46.80" x2="630.10" y2="46.80" stroke="#f5891f" stroke-width="1.4" />
<line x1="640.10" y1="40.20" x2="640.10" y2="47.00" stroke="#f5891f" stroke-width="1.4" />
<line x1="638.70" y1="40.20" x2="641.50" y2="40.20" stroke="#f5891f" stroke-width="1.4" />
<line x1="638.70" y1="47.00" x2="641.50" y2="47.00" stroke="#f5891f" stroke-width="1.4" />
<line x1="651.50" y1="41.00" x2="651.50" y2="47.80" stroke="#f5891f" stroke-width="1.4" />
<line x1="650.10" y1="41.00" x2="652.90" y2="41.00" stroke="#f5891f" stroke-width="1.4" />
<line x1="650.10" y1="47.80" x2="652.90" y2="47.80" stroke="#f5891f" stroke-width="1.4" />
<line x1="662.90" y1="40.60" x2="662.90" y2="47.40" stroke="#f5891f" stroke-width="1.4" />
<line x1="661.50" y1="40.60" x2="664.30" y2="40.60" stroke="#f5891f" stroke-width="1.4" />
<line x1="661.50" y1="47.40" x2="664.30" y2="47.40" stroke="#f5891f" stroke-width="1.4" />
<polyline points="514.70,46.00 526.10,44.00 537.50,44.50 548.90,44.80 560.30,46.20 571.70,44.80 583.10,44.60 594.50,43.00 605.90,42.50 617.30,45.80 628.70,43.40 640.10,43.60 651.50,44.40 662.90,44.00" stroke="#f5891f" stroke-width="1.5" fill="none" />
<circle cx="514.70" cy="46.00" r="1.1" stroke="#f5891f" stroke-width="0" fill="#f5891f"/>
<circle cx="526.10" cy="44.00" r="1.1" stroke="#f5891f" stroke-width="0" fill="#f5891f"/>
<circle cx="537.50" cy="44.50" r="1.1" stroke="#f5891f" stroke-width="0" fill="#f5891f"/>
<circle cx="548.90" cy="44.80" r="1.1" stroke="#f5891f" stroke-width="0" fill="#f5891f"/>
<circle cx="560.30" cy="46.20" r="1.1" stroke="#f5891f" stroke-width="0" fill="#f5891f"/>
<circle cx="571.70" cy="44.80" r="1.1" stroke="#f5891f" stroke-width="0" fill="#f5891f"/>
<circle cx="583.10" cy="44.60" r="1.1" stroke="#f5891f" stroke-width="0" fill="#f5891f"/>
<circle cx="594.50" cy="43.00" r="1.1" stroke="#f5891f" stroke-width="0" fill="#f5891f"/>
<circle cx="605.90" cy="42.50" r="1.1" stroke="#f5891f" stroke-width="0" fill="#f5891f"/>
<circle cx="617.30" cy="45.80" r="1.1" stroke="#f5891f" stroke-width="0" fill="#f5891f"/>
<circle cx="628.70" cy="43.40" r="1.1" stroke="#f5891f" stroke-width="0" fill="#f5891f"/>
<circle cx="640.10" cy="43.60" r="1.1" stroke="#f5891f" stroke-width="0" fill="#f5891f"/>
<circle cx="651.50" cy="44.40" r="1.1" stroke="#f5891f" stroke-width="0" fill="#f5891f"/>
<circle cx="662.90" cy="44.00" r="1.1" stroke="#f5891f" stroke-width="0" fill="#f5891f"/>
<line x1="514.70" y1="44.90" x2="514.70" y2="54.90" stroke="#e8262b" stroke-width="1.4" />
<line x1="513.30" y1="44.90" x2="516.10" y2="44.90" stroke="#e8262b" stroke-width="1.4" />
<line x1="513.30" y1="54.90" x2="516.10" y2="54.90" stroke="#e8262b" stroke-width="1.4" />
<line x1="526.10" y1="40.90" x2="526.10" y2="52.50" stroke="#e8262b" stroke-width="1.4" />
<line x1="524.70" y1="40.90" x2="527.50" y2="40.90" stroke="#e8262b" stroke-width="1.4" />
<line x1="524.70" y1="52.50" x2="527.50" y2="52.50" stroke="#e8262b" stroke-width="1.4" />
<line x1="537.50" y1="39.90" x2="537.50" y2="52.30" stroke="#e8262b" stroke-width="1.4" />
<line x1="536.10" y1="39.90" x2="538.90" y2="39.90" stroke="#e8262b" stroke-width="1.4" />
<line x1="536.10" y1="52.30" x2="538.90" y2="52.30" stroke="#e8262b" stroke-width="1.4" />
<line x1="548.90" y1="38.90" x2="548.90" y2="52.10" stroke="#e8262b" stroke-width="1.4" />
<line x1="547.50" y1="38.90" x2="550.30" y2="38.90" stroke="#e8262b" stroke-width="1.4" />
<line x1="547.50" y1="52.10" x2="550.30" y2="52.10" stroke="#e8262b" stroke-width="1.4" />
<line x1="560.30" y1="40.60" x2="560.30" y2="54.20" stroke="#e8262b" stroke-width="1.4" />
<line x1="558.90" y1="40.60" x2="561.70" y2="40.60" stroke="#e8262b" stroke-width="1.4" />
<line x1="558.90" y1="54.20" x2="561.70" y2="54.20" stroke="#e8262b" stroke-width="1.4" />
<line x1="571.70" y1="40.70" x2="571.70" y2="51.10" stroke="#e8262b" stroke-width="1.4" />
<line x1="570.30" y1="40.70" x2="573.10" y2="40.70" stroke="#e8262b" stroke-width="1.4" />
<line x1="570.30" y1="51.10" x2="573.10" y2="51.10" stroke="#e8262b" stroke-width="1.4" />
<line x1="583.10" y1="38.90" x2="583.10" y2="51.30" stroke="#e8262b" stroke-width="1.4" />
<line x1="581.70" y1="38.90" x2="584.50" y2="38.90" stroke="#e8262b" stroke-width="1.4" />
<line x1="581.70" y1="51.30" x2="584.50" y2="51.30" stroke="#e8262b" stroke-width="1.4" />
<line x1="594.50" y1="36.60" x2="594.50" y2="48.40" stroke="#e8262b" stroke-width="1.4" />
<line x1="593.10" y1="36.60" x2="595.90" y2="36.60" stroke="#e8262b" stroke-width="1.4" />
<line x1="593.10" y1="48.40" x2="595.90" y2="48.40" stroke="#e8262b" stroke-width="1.4" />
<line x1="605.90" y1="35.40" x2="605.90" y2="47.40" stroke="#e8262b" stroke-width="1.4" />
<line x1="604.50" y1="35.40" x2="607.30" y2="35.40" stroke="#e8262b" stroke-width="1.4" />
<line x1="604.50" y1="47.40" x2="607.30" y2="47.40" stroke="#e8262b" stroke-width="1.4" />
<line x1="617.30" y1="40.70" x2="617.30" y2="50.30" stroke="#e8262b" stroke-width="1.4" />
<line x1="615.90" y1="40.70" x2="618.70" y2="40.70" stroke="#e8262b" stroke-width="1.4" />
<line x1="615.90" y1="50.30" x2="618.70" y2="50.30" stroke="#e8262b" stroke-width="1.4" />
<line x1="628.70" y1="38.40" x2="628.70" y2="47.60" stroke="#e8262b" stroke-width="1.4" />
<line x1="627.30" y1="38.40" x2="630.10" y2="38.40" stroke="#e8262b" stroke-width="1.4" />
<line x1="627.30" y1="47.60" x2="630.10" y2="47.60" stroke="#e8262b" stroke-width="1.4" />
<line x1="640.10" y1="38.80" x2="640.10" y2="49.20" stroke="#e8262b" stroke-width="1.4" />
<line x1="638.70" y1="38.80" x2="641.50" y2="38.80" stroke="#e8262b" stroke-width="1.4" />
<line x1="638.70" y1="49.20" x2="641.50" y2="49.20" stroke="#e8262b" stroke-width="1.4" />
<line x1="651.50" y1="41.20" x2="651.50" y2="50.80" stroke="#e8262b" stroke-width="1.4" />
<line x1="650.10" y1="41.20" x2="652.90" y2="41.20" stroke="#e8262b" stroke-width="1.4" />
<line x1="650.10" y1="50.80" x2="652.90" y2="50.80" stroke="#e8262b" stroke-width="1.4" />
<line x1="662.90" y1="42.50" x2="662.90" y2="49.50" stroke="#e8262b" stroke-width="1.4" />
<line x1="661.50" y1="42.50" x2="664.30" y2="42.50" stroke="#e8262b" stroke-width="1.4" />
<line x1="661.50" y1="49.50" x2="664.30" y2="49.50" stroke="#e8262b" stroke-width="1.4" />
<polyline points="514.70,49.90 526.10,46.70 537.50,46.10 548.90,45.50 560.30,47.40 571.70,45.90 583.10,45.10 594.50,42.50 605.90,41.40 617.30,45.50 628.70,43.00 640.10,44.00 651.50,46.00 662.90,46.00" stroke="#e8262b" stroke-width="1.5" fill="none" />
<circle cx="514.70" cy="49.90" r="1.1" stroke="#e8262b" stroke-width="0" fill="#e8262b"/>
<circle cx="526.10" cy="46.70" r="1.1" stroke="#e8262b" stroke-width="0" fill="#e8262b"/>
<circle cx="537.50" cy="46.10" r="1.1" stroke="#e8262b" stroke-width="0" fill="#e8262b"/>
<circle cx="548.90" cy="45.50" r="1.1" stroke="#e8262b" stroke-width="0" fill="#e8262b"/>
<circle cx="560.30" cy="47.40" r="1.1" stroke="#e8262b" stroke-width="0" fill="#e8262b"/>
<circle cx="571.70" cy="45.90" r="1.1" stroke="#e8262b" stroke-width="0" fill="#e8262b"/>
<circle cx="583.10" cy="45.10" r="1.1" stroke="#e8262b" stroke-width="0" fill="#e8262b"/>
<circle cx="594.50" cy="42.50" r="1.1" stroke="#e8262b" stroke-width="0" fill="#e8262b"/>
<circle cx="605.90" cy="41.40" r="1.1" stroke="#e8262b" stroke-width="0" fill="#e8262b"/>
<circle cx="617.30" cy="45.50" r="1.1" stroke="#e8262b" stroke-width="0" fill="#e8262b"/>
<circle cx="628.70" cy="43.00" r="1.1" stroke="#e8262b" stroke-width="0" fill="#e8262b"/>
<circle cx="640.10" cy="44.00" r="1.1" stroke="#e8262b" stroke-width="0" fill="#e8262b"/>
<circle cx="651.50" cy="46.00" r="1.1" stroke="#e8262b" stroke-width="0" fill="#e8262b"/>
<circle cx="662.90" cy="46.00" r="1.1" stroke="#e8262b" stroke-width="0" fill="#e8262b"/>
<line x1="514.70" y1="43.50" x2="514.70" y2="49.90" stroke="#7b86cf" stroke-width="1.4" />
<line x1="513.30" y1="43.50" x2="516.10" y2="43.50" stroke="#7b86cf" stroke-width="1.4" />
<line x1="513.30" y1="49.90" x2="516.10" y2="49.90" stroke="#7b86cf" stroke-width="1.4" />
<line x1="526.10" y1="40.10" x2="526.10" y2="47.10" stroke="#7b86cf" stroke-width="1.4" />
<line x1="524.70" y1="40.10" x2="527.50" y2="40.10" stroke="#7b86cf" stroke-width="1.4" />
<line x1="524.70" y1="47.10" x2="527.50" y2="47.10" stroke="#7b86cf" stroke-width="1.4" />
<line x1="537.50" y1="40.60" x2="537.50" y2="47.40" stroke="#7b86cf" stroke-width="1.4" />
<line x1="536.10" y1="40.60" x2="538.90" y2="40.60" stroke="#7b86cf" stroke-width="1.4" />
<line x1="536.10" y1="47.40" x2="538.90" y2="47.40" stroke="#7b86cf" stroke-width="1.4" />
<line x1="548.90" y1="41.20" x2="548.90" y2="48.00" stroke="#7b86cf" stroke-width="1.4" />
<line x1="547.50" y1="41.20" x2="550.30" y2="41.20" stroke="#7b86cf" stroke-width="1.4" />
<line x1="547.50" y1="48.00" x2="550.30" y2="48.00" stroke="#7b86cf" stroke-width="1.4" />
<line x1="560.30" y1="43.50" x2="560.30" y2="49.90" stroke="#7b86cf" stroke-width="1.4" />
<line x1="558.90" y1="43.50" x2="561.70" y2="43.50" stroke="#7b86cf" stroke-width="1.4" />
<line x1="558.90" y1="49.90" x2="561.70" y2="49.90" stroke="#7b86cf" stroke-width="1.4" />
<line x1="571.70" y1="41.00" x2="571.70" y2="47.60" stroke="#7b86cf" stroke-width="1.4" />
<line x1="570.30" y1="41.00" x2="573.10" y2="41.00" stroke="#7b86cf" stroke-width="1.4" />
<line x1="570.30" y1="47.60" x2="573.10" y2="47.60" stroke="#7b86cf" stroke-width="1.4" />
<line x1="583.10" y1="41.40" x2="583.10" y2="48.40" stroke="#7b86cf" stroke-width="1.4" />
<line x1="581.70" y1="41.40" x2="584.50" y2="41.40" stroke="#7b86cf" stroke-width="1.4" />
<line x1="581.70" y1="48.40" x2="584.50" y2="48.40" stroke="#7b86cf" stroke-width="1.4" />
<line x1="594.50" y1="39.40" x2="594.50" y2="46.00" stroke="#7b86cf" stroke-width="1.4" />
<line x1="593.10" y1="39.40" x2="595.90" y2="39.40" stroke="#7b86cf" stroke-width="1.4" />
<line x1="593.10" y1="46.00" x2="595.90" y2="46.00" stroke="#7b86cf" stroke-width="1.4" />
<line x1="605.90" y1="38.80" x2="605.90" y2="45.40" stroke="#7b86cf" stroke-width="1.4" />
<line x1="604.50" y1="38.80" x2="607.30" y2="38.80" stroke="#7b86cf" stroke-width="1.4" />
<line x1="604.50" y1="45.40" x2="607.30" y2="45.40" stroke="#7b86cf" stroke-width="1.4" />
<line x1="617.30" y1="42.50" x2="617.30" y2="49.10" stroke="#7b86cf" stroke-width="1.4" />
<line x1="615.90" y1="42.50" x2="618.70" y2="42.50" stroke="#7b86cf" stroke-width="1.4" />
<line x1="615.90" y1="49.10" x2="618.70" y2="49.10" stroke="#7b86cf" stroke-width="1.4" />
<line x1="628.70" y1="37.10" x2="628.70" y2="43.10" stroke="#7b86cf" stroke-width="1.4" />
<line x1="627.30" y1="37.10" x2="630.10" y2="37.10" stroke="#7b86cf" stroke-width="1.4" />
<line x1="627.30" y1="43.10" x2="630.10" y2="43.10" stroke="#7b86cf" stroke-width="1.4" />
<line x1="640.10" y1="40.00" x2="640.10" y2="46.80" stroke="#7b86cf" stroke-width="1.4" />
<line x1="638.70" y1="40.00" x2="641.50" y2="40.00" stroke="#7b86cf" stroke-width="1.4" />
<line x1="638.70" y1="46.80" x2="641.50" y2="46.80" stroke="#7b86cf" stroke-width="1.4" />
<line x1="651.50" y1="42.00" x2="651.50" y2="48.80" stroke="#7b86cf" stroke-width="1.4" />
<line x1="650.10" y1="42.00" x2="652.90" y2="42.00" stroke="#7b86cf" stroke-width="1.4" />
<line x1="650.10" y1="48.80" x2="652.90" y2="48.80" stroke="#7b86cf" stroke-width="1.4" />
<line x1="662.90" y1="38.70" x2="662.90" y2="46.70" stroke="#7b86cf" stroke-width="1.4" />
<line x1="661.50" y1="38.70" x2="664.30" y2="38.70" stroke="#7b86cf" stroke-width="1.4" />
<line x1="661.50" y1="46.70" x2="664.30" y2="46.70" stroke="#7b86cf" stroke-width="1.4" />
<polyline points="514.70,46.70 526.10,43.60 537.50,44.00 548.90,44.60 560.30,46.70 571.70,44.30 583.10,44.90 594.50,42.70 605.90,42.10 617.30,45.80 628.70,40.10 640.10,43.40 651.50,45.40 662.90,42.70" stroke="#7b86cf" stroke-width="1.5" fill="none" />
<circle cx="514.70" cy="46.70" r="1.1" stroke="#7b86cf" stroke-width="0" fill="#7b86cf"/>
<circle cx="526.10" cy="43.60" r="1.1" stroke="#7b86cf" stroke-width="0" fill="#7b86cf"/>
<circle cx="537.50" cy="44.00" r="1.1" stroke="#7b86cf" stroke-width="0" fill="#7b86cf"/>
<circle cx="548.90" cy="44.60" r="1.1" stroke="#7b86cf" stroke-width="0" fill="#7b86cf"/>
<circle cx="560.30" cy="46.70" r="1.1" stroke="#7b86cf" stroke-width="0" fill="#7b86cf"/>
<circle cx="571.70" cy="44.30" r="1.1" stroke="#7b86cf" stroke-width="0" fill="#7b86cf"/>
<circle cx="583.10" cy="44.90" r="1.1" stroke="#7b86cf" stroke-width="0" fill="#7b86cf"/>
<circle cx="594.50" cy="42.70" r="1.1" stroke="#7b86cf" stroke-width="0" fill="#7b86cf"/>
<circle cx="605.90" cy="42.10" r="1.1" stroke="#7b86cf" stroke-width="0" fill="#7b86cf"/>
<circle cx="617.30" cy="45.80" r="1.1" stroke="#7b86cf" stroke-width="0" fill="#7b86cf"/>
<circle cx="628.70" cy="40.10" r="1.1" stroke="#7b86cf" stroke-width="0" fill="#7b86cf"/>
<circle cx="640.10" cy="43.40" r="1.1" stroke="#7b86cf" stroke-width="0" fill="#7b86cf"/>
<circle cx="651.50" cy="45.40" r="1.1" stroke="#7b86cf" stroke-width="0" fill="#7b86cf"/>
<circle cx="662.90" cy="42.70" r="1.1" stroke="#7b86cf" stroke-width="0" fill="#7b86cf"/>
<line x1="515.00" y1="68.40" x2="529.80" y2="68.40" stroke="#7b86cf" stroke-width="1.6" />
<circle cx="522.40" cy="68.40" r="1.3" stroke="#7b86cf" stroke-width="0" fill="#7b86cf"/>
<text x="531.60" y="71.30" font-size="8.1" text-anchor="start" font-weight="normal" fill="#231f20" stroke="#231f20" stroke-width="0.2" >PBS</text>
<line x1="515.00" y1="82.40" x2="529.80" y2="82.40" stroke="#f5891f" stroke-width="1.6" />
<rect x="521.00" y="81.00" width="2.8" height="2.8" fill="#f5891f"/>
<text x="531.60" y="85.30" font-size="8.1" text-anchor="start" font-weight="normal" fill="#231f20" stroke="#231f20" stroke-width="0.2" >Lipo</text>
<line x1="515.00" y1="97.20" x2="529.80" y2="97.20" stroke="#e8262b" stroke-width="1.6" />
<path d="M520.80 98.40 L522.40 95.60 L524.00 98.40 Z" fill="#e8262b"/>
<text x="531.60" y="100.10" font-size="8.1" text-anchor="start" font-weight="normal" fill="#231f20" stroke="#231f20" stroke-width="0.2" >HSPC-Lipo</text>
<polyline points="577.50,81.10 584.40,81.10 584.40,98.50 577.50,98.50" stroke="#231f20" stroke-width="1.0" fill="none" />
<text x="587.00" y="94.00" font-size="8.2" text-anchor="start" fill="#231f20" stroke="#231f20" stroke-width="0.2"><tspan font-style="italic">P</tspan>=0.289</text>
<polyline points="617.20,71.20 624.10,71.20 624.10,99.70 617.20,99.70" stroke="#231f20" stroke-width="1.0" fill="none" />
<text x="625.40" y="89.90" font-size="8.2" text-anchor="start" fill="#231f20" stroke="#231f20" stroke-width="0.2"><tspan font-style="italic">P</tspan>=0.379</text>
<text x="-0.50" y="155.70" font-size="16" text-anchor="start" font-weight="bold" fill="#231815" stroke="#231815" stroke-width="0.3" >c</text>
<circle cx="34.70" cy="150.70" r="1.8" stroke="#231f20" stroke-width="0.9" fill="none"/>
<text x="44.60" y="154.00" font-size="9.15" text-anchor="start" font-weight="normal" fill="#231f20" stroke="#231f20" stroke-width="0.2" >PBS</text>
<circle cx="74.80" cy="150.70" r="1.8" stroke="#4a5db0" stroke-width="0.9" fill="none"/>
<text x="84.30" y="154.00" font-size="9.15" text-anchor="start" font-weight="normal" fill="#231f20" stroke="#231f20" stroke-width="0.2" >Liposome</text>
<circle cx="137.40" cy="150.70" r="1.8" stroke="#e8252b" stroke-width="0.9" fill="none"/>
<text x="144.40" y="154.00" font-size="9.15" text-anchor="start" font-weight="normal" fill="#231f20" stroke="#231f20" stroke-width="0.2" >HSPC-Lipo</text>
<line x1="42.50" y1="187.70" x2="42.50" y2="281.00" stroke="#231f20" stroke-width="1.0" />
<line x1="42.50" y1="295.00" x2="42.50" y2="357.10" stroke="#231f20" stroke-width="1.0" />
<line x1="36.50" y1="187.50" x2="42.80" y2="187.50" stroke="#231f20" stroke-width="1.0" />
<text x="34.90" y="191.30" font-size="10.0" text-anchor="end" fill="#231f20" stroke="#231f20" stroke-width="0.3">20</text>
<line x1="36.50" y1="213.50" x2="42.80" y2="213.50" stroke="#231f20" stroke-width="1.0" />
<text x="34.90" y="217.30" font-size="10.0" text-anchor="end" fill="#231f20" stroke="#231f20" stroke-width="0.3">15</text>
<line x1="36.50" y1="239.50" x2="42.80" y2="239.50" stroke="#231f20" stroke-width="1.0" />
<text x="34.90" y="243.30" font-size="10.0" text-anchor="end" fill="#231f20" stroke="#231f20" stroke-width="0.3">10</text>
<line x1="36.50" y1="266.50" x2="42.80" y2="266.50" stroke="#231f20" stroke-width="1.0" />
<text x="34.90" y="269.60" font-size="10.0" text-anchor="end" fill="#231f20" stroke="#231f20" stroke-width="0.3">5</text>
<text x="34.90" y="298.20" font-size="10.0" text-anchor="end" fill="#231f20" stroke="#231f20" stroke-width="0.3">0.5</text>
<line x1="36.50" y1="307.50" x2="42.80" y2="307.50" stroke="#231f20" stroke-width="1.0" />
<text x="34.90" y="310.60" font-size="10.0" text-anchor="end" fill="#231f20" stroke="#231f20" stroke-width="0.3">0.4</text>
<line x1="36.50" y1="319.50" x2="42.80" y2="319.50" stroke="#231f20" stroke-width="1.0" />
<text x="34.90" y="323.00" font-size="10.0" text-anchor="end" fill="#231f20" stroke="#231f20" stroke-width="0.3">0.3</text>
<line x1="36.50" y1="331.50" x2="42.80" y2="331.50" stroke="#231f20" stroke-width="1.0" />
<text x="34.90" y="335.50" font-size="10.0" text-anchor="end" fill="#231f20" stroke="#231f20" stroke-width="0.3">0.2</text>
<line x1="36.50" y1="344.50" x2="42.80" y2="344.50" stroke="#231f20" stroke-width="1.0" />
<text x="34.90" y="348.00" font-size="10.0" text-anchor="end" fill="#231f20" stroke="#231f20" stroke-width="0.3">0.1</text>
<line x1="36.50" y1="357.50" x2="42.80" y2="357.50" stroke="#231f20" stroke-width="1.0" />
<text x="34.90" y="360.70" font-size="10.0" text-anchor="end" fill="#231f20" stroke="#231f20" stroke-width="0.3">0.0</text>
<line x1="38.40" y1="277.30" x2="47.20" y2="286.10" stroke="#231f20" stroke-width="1.0" />
<line x1="38.40" y1="289.60" x2="47.20" y2="298.60" stroke="#231f20" stroke-width="1.0" />
<rect x="48.50" y="252.50" width="10.00" height="105.00" fill="none" stroke="#231f20" stroke-width="1.0"/>
<path d="M53.50 242.00 V266.00 M50.50 242.50 H56.50 M50.50 266.50 H56.50" stroke="#231f20" stroke-width="1.0" fill="none"/>
<circle cx="53.50" cy="239.20" r="1.7" stroke="#231f20" stroke-width="0.9" fill="#fff"/>
<circle cx="53.50" cy="245.60" r="1.7" stroke="#231f20" stroke-width="0.9" fill="#fff"/>
<circle cx="50.20" cy="252.50" r="1.7" stroke="#231f20" stroke-width="0.9" fill="#fff"/>
<circle cx="53.50" cy="252.50" r="1.7" stroke="#231f20" stroke-width="0.9" fill="#fff"/>
<circle cx="56.70" cy="252.50" r="1.7" stroke="#231f20" stroke-width="0.9" fill="#fff"/>
<circle cx="53.50" cy="277.50" r="1.7" stroke="#231f20" stroke-width="0.9" fill="#fff"/>
<rect x="64.50" y="254.50" width="10.00" height="103.00" fill="none" stroke="#4a5db0" stroke-width="1.0"/>
<path d="M69.50 248.60 V260.60 M66.50 248.50 H72.50 M66.50 260.50 H72.50" stroke="#4a5db0" stroke-width="1.0" fill="none"/>
<circle cx="68.30" cy="244.90" r="1.7" stroke="#4a5db0" stroke-width="0.9" fill="#fff"/>
<circle cx="68.30" cy="252.70" r="1.7" stroke="#4a5db0" stroke-width="0.9" fill="#fff"/>
<circle cx="65.70" cy="255.50" r="1.7" stroke="#4a5db0" stroke-width="0.9" fill="#fff"/>
<circle cx="70.60" cy="255.50" r="1.7" stroke="#4a5db0" stroke-width="0.9" fill="#fff"/>
<circle cx="73.20" cy="255.00" r="1.7" stroke="#4a5db0" stroke-width="0.9" fill="#fff"/>
<circle cx="68.30" cy="262.60" r="1.7" stroke="#4a5db0" stroke-width="0.9" fill="#fff"/>
<rect x="80.50" y="247.50" width="10.00" height="110.00" fill="none" stroke="#e8252b" stroke-width="1.0"/>
<path d="M85.50 224.60 V269.50 M82.50 224.50 H88.50 M82.50 269.50 H88.50" stroke="#e8252b" stroke-width="1.0" fill="none"/>
<circle cx="85.50" cy="215.50" r="1.7" stroke="#e8252b" stroke-width="0.9" fill="#fff"/>
<circle cx="85.50" cy="223.20" r="1.7" stroke="#e8252b" stroke-width="0.9" fill="#fff"/>
<circle cx="85.50" cy="254.30" r="1.7" stroke="#e8252b" stroke-width="0.9" fill="#fff"/>
<circle cx="85.50" cy="261.60" r="1.7" stroke="#e8252b" stroke-width="0.9" fill="#fff"/>
<circle cx="88.80" cy="261.00" r="1.7" stroke="#e8252b" stroke-width="0.9" fill="#fff"/>
<circle cx="85.50" cy="267.00" r="1.7" stroke="#e8252b" stroke-width="0.9" fill="#fff"/>
<rect x="106.50" y="323.50" width="10.00" height="34.00" fill="none" stroke="#231f20" stroke-width="1.0"/>
<path d="M111.50 305.60 V341.00 M108.50 305.50 H114.50 M108.50 341.50 H114.50" stroke="#231f20" stroke-width="1.0" fill="none"/>
<circle cx="111.60" cy="299.00" r="1.7" stroke="#231f20" stroke-width="0.9" fill="#fff"/>
<circle cx="111.60" cy="304.50" r="1.7" stroke="#231f20" stroke-width="0.9" fill="#fff"/>
<circle cx="107.90" cy="330.80" r="1.7" stroke="#231f20" stroke-width="0.9" fill="#fff"/>
<circle cx="111.60" cy="329.60" r="1.7" stroke="#231f20" stroke-width="0.9" fill="#fff"/>
<circle cx="115.30" cy="330.80" r="1.7" stroke="#231f20" stroke-width="0.9" fill="#fff"/>
<circle cx="111.60" cy="345.80" r="1.7" stroke="#231f20" stroke-width="0.9" fill="#fff"/>
<rect x="122.50" y="326.50" width="10.00" height="31.00" fill="none" stroke="#4a5db0" stroke-width="1.0"/>
<path d="M127.50 319.50 V333.50 M124.50 319.50 H130.50 M124.50 333.50 H130.50" stroke="#4a5db0" stroke-width="1.0" fill="none"/>
<circle cx="127.60" cy="315.30" r="1.7" stroke="#4a5db0" stroke-width="0.9" fill="#fff"/>
<circle cx="124.10" cy="321.50" r="1.7" stroke="#4a5db0" stroke-width="0.9" fill="#fff"/>
<circle cx="127.00" cy="321.00" r="1.7" stroke="#4a5db0" stroke-width="0.9" fill="#fff"/>
<circle cx="127.80" cy="329.40" r="1.7" stroke="#4a5db0" stroke-width="0.9" fill="#fff"/>
<circle cx="124.10" cy="334.20" r="1.7" stroke="#4a5db0" stroke-width="0.9" fill="#fff"/>
<circle cx="131.30" cy="333.10" r="1.7" stroke="#4a5db0" stroke-width="0.9" fill="#fff"/>
<rect x="138.50" y="332.50" width="10.00" height="25.00" fill="none" stroke="#e8252b" stroke-width="1.0"/>
<path d="M143.50 327.00 V337.00 M140.50 327.50 H146.50 M140.50 337.50 H146.50" stroke="#e8252b" stroke-width="1.0" fill="none"/>
<circle cx="143.40" cy="325.30" r="1.7" stroke="#e8252b" stroke-width="0.9" fill="#fff"/>
<circle cx="146.90" cy="329.40" r="1.7" stroke="#e8252b" stroke-width="0.9" fill="#fff"/>
<circle cx="143.40" cy="331.10" r="1.7" stroke="#e8252b" stroke-width="0.9" fill="#fff"/>
<circle cx="140.00" cy="336.30" r="1.7" stroke="#e8252b" stroke-width="0.9" fill="#fff"/>
<circle cx="143.40" cy="334.60" r="1.7" stroke="#e8252b" stroke-width="0.9" fill="#fff"/>
<circle cx="146.90" cy="335.80" r="1.7" stroke="#e8252b" stroke-width="0.9" fill="#fff"/>
<rect x="164.50" y="354.50" width="10.00" height="3.00" fill="none" stroke="#231f20" stroke-width="1.0"/>
<circle cx="166.20" cy="355.10" r="1.7" stroke="#231f20" stroke-width="0.9" fill="#fff"/>
<circle cx="168.80" cy="354.90" r="1.7" stroke="#231f20" stroke-width="0.9" fill="#fff"/>
<circle cx="171.40" cy="355.10" r="1.7" stroke="#231f20" stroke-width="0.9" fill="#fff"/>
<circle cx="173.80" cy="354.90" r="1.7" stroke="#231f20" stroke-width="0.9" fill="#fff"/>
<circle cx="167.50" cy="353.20" r="1.7" stroke="#231f20" stroke-width="0.9" fill="#fff"/>
<circle cx="170.20" cy="353.00" r="1.7" stroke="#231f20" stroke-width="0.9" fill="#fff"/>
<circle cx="172.70" cy="353.20" r="1.7" stroke="#231f20" stroke-width="0.9" fill="#fff"/>
<rect x="180.50" y="354.50" width="10.00" height="3.00" fill="none" stroke="#4a5db0" stroke-width="1.0"/>
<circle cx="182.20" cy="355.10" r="1.7" stroke="#4a5db0" stroke-width="0.9" fill="#fff"/>
<circle cx="184.80" cy="354.90" r="1.7" stroke="#4a5db0" stroke-width="0.9" fill="#fff"/>
<circle cx="187.40" cy="355.10" r="1.7" stroke="#4a5db0" stroke-width="0.9" fill="#fff"/>
<circle cx="189.80" cy="354.90" r="1.7" stroke="#4a5db0" stroke-width="0.9" fill="#fff"/>
<circle cx="183.50" cy="353.20" r="1.7" stroke="#4a5db0" stroke-width="0.9" fill="#fff"/>
<circle cx="186.20" cy="353.00" r="1.7" stroke="#4a5db0" stroke-width="0.9" fill="#fff"/>
<circle cx="188.70" cy="353.20" r="1.7" stroke="#4a5db0" stroke-width="0.9" fill="#fff"/>
<rect x="196.50" y="354.50" width="10.00" height="3.00" fill="none" stroke="#e8252b" stroke-width="1.0"/>
<circle cx="198.20" cy="355.10" r="1.7" stroke="#e8252b" stroke-width="0.9" fill="#fff"/>
<circle cx="200.80" cy="354.90" r="1.7" stroke="#e8252b" stroke-width="0.9" fill="#fff"/>
<circle cx="203.40" cy="355.10" r="1.7" stroke="#e8252b" stroke-width="0.9" fill="#fff"/>
<circle cx="205.80" cy="354.90" r="1.7" stroke="#e8252b" stroke-width="0.9" fill="#fff"/>
<circle cx="199.50" cy="353.20" r="1.7" stroke="#e8252b" stroke-width="0.9" fill="#fff"/>
<circle cx="202.20" cy="353.00" r="1.7" stroke="#e8252b" stroke-width="0.9" fill="#fff"/>
<circle cx="204.70" cy="353.20" r="1.7" stroke="#e8252b" stroke-width="0.9" fill="#fff"/>
<line x1="36.50" y1="357.50" x2="212.70" y2="357.50" stroke="#231f20" stroke-width="1.0" />
<line x1="69.50" y1="357.10" x2="69.50" y2="362.90" stroke="#231f20" stroke-width="1.0" />
<text x="69.20" y="374.90" font-size="10.3" text-anchor="middle" font-weight="normal" fill="#231f20" stroke="#231f20" stroke-width="0.3" >Lin-</text>
<line x1="127.50" y1="357.10" x2="127.50" y2="362.90" stroke="#231f20" stroke-width="1.0" />
<text x="127.50" y="374.90" font-size="10.3" text-anchor="middle" font-weight="normal" fill="#231f20" stroke="#231f20" stroke-width="0.3" >LSK</text>
<line x1="185.50" y1="357.10" x2="185.50" y2="362.90" stroke="#231f20" stroke-width="1.0" />
<text x="185.30" y="374.90" font-size="10.3" text-anchor="middle" font-weight="normal" fill="#231f20" stroke="#231f20" stroke-width="0.3" >HSC</text>
<polyline points="50.50,180.30 50.50,172.50 88.50,172.50 88.50,180.30" stroke="#231f20" stroke-width="1.0" fill="none" />
<polyline points="65.50,201.50 65.50,196.50 86.50,196.50 86.50,201.50" stroke="#231f20" stroke-width="1.0" fill="none" />
<polyline points="109.50,179.50 109.50,171.50 148.50,171.50 148.50,179.50" stroke="#231f20" stroke-width="1.0" fill="none" />
<polyline points="123.50,200.20 123.50,195.50 144.50,195.50 144.50,200.20" stroke="#231f20" stroke-width="1.0" fill="none" />
<polyline points="168.50,179.50 168.50,171.50 206.50,171.50 206.50,179.50" stroke="#231f20" stroke-width="1.0" fill="none" />
<polyline points="184.50,200.90 184.50,196.50 204.50,196.50 204.50,200.90" stroke="#231f20" stroke-width="1.0" fill="none" />
<text x="52.30" y="167.90" font-size="8.3" text-anchor="start" fill="#231f20" stroke="#231f20" stroke-width="0.2"><tspan font-style="italic">P</tspan>=0.658</text>
<text x="69.00" y="191.30" font-size="8.3" text-anchor="start" fill="#231f20" stroke="#231f20" stroke-width="0.2"><tspan font-style="italic">P</tspan>=0.533</text>
<text x="114.60" y="168.20" font-size="8.3" text-anchor="start" fill="#231f20" stroke="#231f20" stroke-width="0.2"><tspan font-style="italic">P</tspan>=0.308</text>
<text x="121.10" y="190.20" font-size="8.3" text-anchor="start" fill="#231f20" stroke="#231f20" stroke-width="0.2"><tspan font-style="italic">P</tspan>=0.258</text>
<text x="174.20" y="168.20" font-size="8.3" text-anchor="start" fill="#231f20" stroke="#231f20" stroke-width="0.2"><tspan font-style="italic">P</tspan>=0.174</text>
<text x="175.90" y="190.20" font-size="8.3" text-anchor="start" fill="#231f20" stroke="#231f20" stroke-width="0.2"><tspan font-style="italic">P</tspan>=0.295</text>
<text x="0" y="0" font-size="10.4" text-anchor="middle" fill="#231f20" stroke="#231f20" stroke-width="0.3" transform="translate(9.60,264.20) rotate(-90)">Frequency of HSPCs in TNC %</text>
<text x="237.30" y="156.00" font-size="16" text-anchor="start" font-weight="bold" fill="#231815" stroke="#231815" stroke-width="0.3" >d</text>
<line x1="275.50" y1="187.80" x2="275.50" y2="357.20" stroke="#231f20" stroke-width="1.0" />
<line x1="268.20" y1="187.50" x2="275.40" y2="187.50" stroke="#231f20" stroke-width="1.0" />
<text x="267.20" y="191.40" font-size="10.0" text-anchor="end" fill="#231f20" stroke="#231f20" stroke-width="0.3">0.6</text>
<line x1="268.20" y1="244.50" x2="275.40" y2="244.50" stroke="#231f20" stroke-width="1.0" />
<text x="267.20" y="247.80" font-size="10.0" text-anchor="end" fill="#231f20" stroke="#231f20" stroke-width="0.3">0.4</text>
<line x1="268.20" y1="300.50" x2="275.40" y2="300.50" stroke="#231f20" stroke-width="1.0" />
<text x="267.20" y="304.40" font-size="10.0" text-anchor="end" fill="#231f20" stroke="#231f20" stroke-width="0.3">0.2</text>
<line x1="268.20" y1="357.50" x2="275.40" y2="357.50" stroke="#231f20" stroke-width="1.0" />
<text x="267.20" y="360.80" font-size="10.0" text-anchor="end" fill="#231f20" stroke="#231f20" stroke-width="0.3">0.0</text>
<rect x="279.50" y="333.50" width="7.00" height="24.00" fill="none" stroke="#231f20" stroke-width="1.0"/>
<path d="M283.50 331.00 V336.00 M281.40 331.50 H285.60 M281.40 336.50 H285.60" stroke="#231f20" stroke-width="1.0" fill="none"/>
<circle cx="281.20" cy="332.50" r="1.7" stroke="#231f20" stroke-width="0.9" fill="#fff"/>
<circle cx="284.80" cy="332.50" r="1.7" stroke="#231f20" stroke-width="0.9" fill="#fff"/>
<circle cx="281.20" cy="336.00" r="1.7" stroke="#231f20" stroke-width="0.9" fill="#fff"/>
<circle cx="284.80" cy="336.00" r="1.7" stroke="#231f20" stroke-width="0.9" fill="#fff"/>
<circle cx="283.00" cy="334.20" r="1.7" stroke="#231f20" stroke-width="0.9" fill="#fff"/>
<rect x="291.50" y="337.50" width="7.00" height="20.00" fill="none" stroke="#4a5db0" stroke-width="1.0"/>
<path d="M295.50 326.00 V349.00 M293.40 326.50 H297.60 M293.40 349.50 H297.60" stroke="#4a5db0" stroke-width="1.0" fill="none"/>
<circle cx="292.10" cy="325.70" r="1.7" stroke="#4a5db0" stroke-width="0.9" fill="#fff"/>
<circle cx="296.30" cy="325.70" r="1.7" stroke="#4a5db0" stroke-width="0.9" fill="#fff"/>
<circle cx="295.00" cy="335.70" r="1.7" stroke="#4a5db0" stroke-width="0.9" fill="#fff"/>
<circle cx="295.00" cy="344.40" r="1.7" stroke="#4a5db0" stroke-width="0.9" fill="#fff"/>
<circle cx="293.80" cy="354.30" r="1.7" stroke="#4a5db0" stroke-width="0.9" fill="#fff"/>
<rect x="302.50" y="336.50" width="8.00" height="21.00" fill="none" stroke="#e8252b" stroke-width="1.0"/>
<path d="M306.50 329.50 V343.00 M304.10 329.50 H308.90 M304.10 343.50 H308.90" stroke="#e8252b" stroke-width="1.0" fill="none"/>
<circle cx="308.20" cy="329.00" r="1.7" stroke="#e8252b" stroke-width="0.9" fill="#fff"/>
<circle cx="304.50" cy="331.40" r="1.7" stroke="#e8252b" stroke-width="0.9" fill="#fff"/>
<circle cx="306.50" cy="335.00" r="1.7" stroke="#e8252b" stroke-width="0.9" fill="#fff"/>
<circle cx="303.50" cy="340.00" r="1.7" stroke="#e8252b" stroke-width="0.9" fill="#fff"/>
<circle cx="307.50" cy="340.00" r="1.7" stroke="#e8252b" stroke-width="0.9" fill="#fff"/>
<circle cx="306.50" cy="344.00" r="1.7" stroke="#e8252b" stroke-width="0.9" fill="#fff"/>
<rect x="322.50" y="277.50" width="8.00" height="80.00" fill="none" stroke="#231f20" stroke-width="1.0"/>
<path d="M326.50 259.10 V295.00 M324.10 259.50 H328.90 M324.10 295.50 H328.90" stroke="#231f20" stroke-width="1.0" fill="none"/>
<circle cx="326.50" cy="246.90" r="1.7" stroke="#231f20" stroke-width="0.9" fill="#fff"/>
<circle cx="326.50" cy="269.80" r="1.7" stroke="#231f20" stroke-width="0.9" fill="#fff"/>
<circle cx="323.70" cy="275.00" r="1.7" stroke="#231f20" stroke-width="0.9" fill="#fff"/>
<circle cx="329.10" cy="282.00" r="1.7" stroke="#231f20" stroke-width="0.9" fill="#fff"/>
<circle cx="325.90" cy="290.00" r="1.7" stroke="#231f20" stroke-width="0.9" fill="#fff"/>
<circle cx="327.40" cy="297.00" r="1.7" stroke="#231f20" stroke-width="0.9" fill="#fff"/>
<rect x="334.50" y="269.50" width="8.00" height="88.00" fill="none" stroke="#4a5db0" stroke-width="1.0"/>
<path d="M338.50 250.80 V288.00 M336.10 250.50 H340.90 M336.10 288.50 H340.90" stroke="#4a5db0" stroke-width="1.0" fill="none"/>
<circle cx="338.50" cy="235.50" r="1.7" stroke="#4a5db0" stroke-width="0.9" fill="#fff"/>
<circle cx="338.50" cy="263.60" r="1.7" stroke="#4a5db0" stroke-width="0.9" fill="#fff"/>
<circle cx="336.10" cy="270.00" r="1.7" stroke="#4a5db0" stroke-width="0.9" fill="#fff"/>
<circle cx="340.60" cy="270.00" r="1.7" stroke="#4a5db0" stroke-width="0.9" fill="#fff"/>
<circle cx="337.20" cy="280.00" r="1.7" stroke="#4a5db0" stroke-width="0.9" fill="#fff"/>
<circle cx="338.50" cy="289.50" r="1.7" stroke="#4a5db0" stroke-width="0.9" fill="#fff"/>
<rect x="346.50" y="284.50" width="7.00" height="73.00" fill="none" stroke="#e8252b" stroke-width="1.0"/>
<path d="M350.50 267.40 V297.00 M348.40 267.50 H352.60 M348.40 297.50 H352.60" stroke="#e8252b" stroke-width="1.0" fill="none"/>
<circle cx="348.40" cy="269.30" r="1.7" stroke="#e8252b" stroke-width="0.9" fill="#fff"/>
<circle cx="351.50" cy="272.00" r="1.7" stroke="#e8252b" stroke-width="0.9" fill="#fff"/>
<circle cx="350.00" cy="282.00" r="1.7" stroke="#e8252b" stroke-width="0.9" fill="#fff"/>
<circle cx="348.00" cy="288.00" r="1.7" stroke="#e8252b" stroke-width="0.9" fill="#fff"/>
<circle cx="352.00" cy="292.00" r="1.7" stroke="#e8252b" stroke-width="0.9" fill="#fff"/>
<circle cx="350.00" cy="296.00" r="1.7" stroke="#e8252b" stroke-width="0.9" fill="#fff"/>
<rect x="365.50" y="296.50" width="8.00" height="61.00" fill="none" stroke="#231f20" stroke-width="1.0"/>
<path d="M369.50 252.10 V338.60 M367.10 252.50 H371.90 M367.10 338.50 H371.90" stroke="#231f20" stroke-width="1.0" fill="none"/>
<circle cx="369.50" cy="229.80" r="1.7" stroke="#231f20" stroke-width="0.9" fill="#fff"/>
<circle cx="369.50" cy="252.10" r="1.7" stroke="#231f20" stroke-width="0.9" fill="#fff"/>
<circle cx="369.50" cy="317.70" r="1.7" stroke="#231f20" stroke-width="0.9" fill="#fff"/>
<circle cx="367.50" cy="321.50" r="1.7" stroke="#231f20" stroke-width="0.9" fill="#fff"/>
<circle cx="370.50" cy="324.00" r="1.7" stroke="#231f20" stroke-width="0.9" fill="#fff"/>
<circle cx="369.50" cy="328.00" r="1.7" stroke="#231f20" stroke-width="0.9" fill="#fff"/>
<rect x="377.50" y="276.50" width="8.00" height="81.00" fill="none" stroke="#4a5db0" stroke-width="1.0"/>
<path d="M381.50 247.70 V304.30 M379.10 247.50 H383.90 M379.10 304.50 H383.90" stroke="#4a5db0" stroke-width="1.0" fill="none"/>
<circle cx="381.30" cy="227.00" r="1.7" stroke="#4a5db0" stroke-width="0.9" fill="#fff"/>
<circle cx="379.00" cy="275.10" r="1.7" stroke="#4a5db0" stroke-width="0.9" fill="#fff"/>
<circle cx="383.10" cy="277.40" r="1.7" stroke="#4a5db0" stroke-width="0.9" fill="#fff"/>
<circle cx="382.00" cy="280.60" r="1.7" stroke="#4a5db0" stroke-width="0.9" fill="#fff"/>
<circle cx="381.30" cy="287.10" r="1.7" stroke="#4a5db0" stroke-width="0.9" fill="#fff"/>
<circle cx="381.30" cy="314.40" r="1.7" stroke="#4a5db0" stroke-width="0.9" fill="#fff"/>
<rect x="389.50" y="305.50" width="8.00" height="52.00" fill="none" stroke="#e8252b" stroke-width="1.0"/>
<path d="M393.50 274.50 V334.60 M391.10 274.50 H395.90 M391.10 334.50 H395.90" stroke="#e8252b" stroke-width="1.0" fill="none"/>
<circle cx="391.30" cy="266.30" r="1.7" stroke="#e8252b" stroke-width="0.9" fill="#fff"/>
<circle cx="393.60" cy="269.10" r="1.7" stroke="#e8252b" stroke-width="0.9" fill="#fff"/>
<circle cx="393.60" cy="302.90" r="1.7" stroke="#e8252b" stroke-width="0.9" fill="#fff"/>
<circle cx="393.60" cy="326.00" r="1.7" stroke="#e8252b" stroke-width="0.9" fill="#fff"/>
<circle cx="390.10" cy="331.60" r="1.7" stroke="#e8252b" stroke-width="0.9" fill="#fff"/>
<circle cx="395.20" cy="331.60" r="1.7" stroke="#e8252b" stroke-width="0.9" fill="#fff"/>
<rect x="409.50" y="296.50" width="7.00" height="61.00" fill="none" stroke="#231f20" stroke-width="1.0"/>
<path d="M413.50 247.70 V342.40 M411.40 247.50 H415.60 M411.40 342.50 H415.60" stroke="#231f20" stroke-width="1.0" fill="none"/>
<circle cx="413.00" cy="227.40" r="1.7" stroke="#231f20" stroke-width="0.9" fill="#fff"/>
<circle cx="413.00" cy="244.10" r="1.7" stroke="#231f20" stroke-width="0.9" fill="#fff"/>
<circle cx="411.10" cy="322.00" r="1.7" stroke="#231f20" stroke-width="0.9" fill="#fff"/>
<circle cx="414.10" cy="322.00" r="1.7" stroke="#231f20" stroke-width="0.9" fill="#fff"/>
<circle cx="413.00" cy="325.00" r="1.7" stroke="#231f20" stroke-width="0.9" fill="#fff"/>
<circle cx="411.60" cy="327.00" r="1.7" stroke="#231f20" stroke-width="0.9" fill="#fff"/>
<rect x="421.50" y="316.50" width="7.00" height="41.00" fill="none" stroke="#4a5db0" stroke-width="1.0"/>
<path d="M425.50 311.70 V320.70 M423.40 311.50 H427.60 M423.40 320.50 H427.60" stroke="#4a5db0" stroke-width="1.0" fill="none"/>
<circle cx="424.80" cy="306.10" r="1.7" stroke="#4a5db0" stroke-width="0.9" fill="#fff"/>
<circle cx="422.50" cy="317.20" r="1.7" stroke="#4a5db0" stroke-width="0.9" fill="#fff"/>
<circle cx="427.10" cy="318.40" r="1.7" stroke="#4a5db0" stroke-width="0.9" fill="#fff"/>
<circle cx="424.80" cy="321.40" r="1.7" stroke="#4a5db0" stroke-width="0.9" fill="#fff"/>
<circle cx="423.00" cy="327.00" r="1.7" stroke="#4a5db0" stroke-width="0.9" fill="#fff"/>
<circle cx="427.10" cy="326.00" r="1.7" stroke="#4a5db0" stroke-width="0.9" fill="#fff"/>
<rect x="432.50" y="324.50" width="8.00" height="33.00" fill="none" stroke="#e8252b" stroke-width="1.0"/>
<path d="M436.50 311.00 V337.10 M434.10 311.50 H438.90 M434.10 337.50 H438.90" stroke="#e8252b" stroke-width="1.0" fill="none"/>
<circle cx="434.50" cy="311.40" r="1.7" stroke="#e8252b" stroke-width="0.9" fill="#fff"/>
<circle cx="438.20" cy="311.40" r="1.7" stroke="#e8252b" stroke-width="0.9" fill="#fff"/>
<circle cx="436.30" cy="321.90" r="1.7" stroke="#e8252b" stroke-width="0.9" fill="#fff"/>
<circle cx="434.50" cy="335.70" r="1.7" stroke="#e8252b" stroke-width="0.9" fill="#fff"/>
<circle cx="439.20" cy="336.90" r="1.7" stroke="#e8252b" stroke-width="0.9" fill="#fff"/>
<circle cx="437.00" cy="332.30" r="1.7" stroke="#e8252b" stroke-width="0.9" fill="#fff"/>
<line x1="268.20" y1="357.50" x2="446.40" y2="357.50" stroke="#231f20" stroke-width="1.0" />
<line x1="294.50" y1="357.20" x2="294.50" y2="363.00" stroke="#231f20" stroke-width="1.0" />
<text x="294.90" y="375.40" font-size="10.3" text-anchor="middle" font-weight="normal" fill="#231f20" stroke="#231f20" stroke-width="0.3" >CLP</text>
<line x1="338.50" y1="357.20" x2="338.50" y2="363.00" stroke="#231f20" stroke-width="1.0" />
<text x="338.30" y="375.40" font-size="10.3" text-anchor="middle" font-weight="normal" fill="#231f20" stroke="#231f20" stroke-width="0.3" >GMP</text>
<line x1="381.50" y1="357.20" x2="381.50" y2="363.00" stroke="#231f20" stroke-width="1.0" />
<text x="381.40" y="375.40" font-size="10.3" text-anchor="middle" font-weight="normal" fill="#231f20" stroke="#231f20" stroke-width="0.3" >MEP</text>
<line x1="424.50" y1="357.20" x2="424.50" y2="363.00" stroke="#231f20" stroke-width="1.0" />
<text x="424.80" y="375.40" font-size="10.3" text-anchor="middle" font-weight="normal" fill="#231f20" stroke="#231f20" stroke-width="0.3" >CMP</text>
<polyline points="282.50,188.70 282.50,180.50 309.50,180.50 309.50,188.70" stroke="#231f20" stroke-width="1.0" fill="none" />
<polyline points="298.50,212.50 298.50,207.50 312.50,207.50 312.50,212.50" stroke="#231f20" stroke-width="1.0" fill="none" />
<polyline points="325.50,188.70 325.50,180.50 353.50,180.50 353.50,188.70" stroke="#231f20" stroke-width="1.0" fill="none" />
<polyline points="338.50,212.50 338.50,207.50 352.50,207.50 352.50,212.50" stroke="#231f20" stroke-width="1.0" fill="none" />
<polyline points="370.50,188.70 370.50,180.50 397.50,180.50 397.50,188.70" stroke="#231f20" stroke-width="1.0" fill="none" />
<polyline points="383.50,212.30 383.50,207.50 397.50,207.50 397.50,212.30" stroke="#231f20" stroke-width="1.0" fill="none" />
<polyline points="413.50,189.90 413.50,181.50 440.50,181.50 440.50,189.90" stroke="#231f20" stroke-width="1.0" fill="none" />
<polyline points="426.50,213.30 426.50,209.50 440.50,209.50 440.50,213.30" stroke="#231f20" stroke-width="1.0" fill="none" />
<text x="288.50" y="176.60" font-size="8.3" text-anchor="start" fill="#231f20" stroke="#231f20" stroke-width="0.2"><tspan font-style="italic">P</tspan>=0.886</text>
<text x="331.40" y="176.60" font-size="8.3" text-anchor="start" fill="#231f20" stroke="#231f20" stroke-width="0.2"><tspan font-style="italic">P</tspan>=0.109</text>
<text x="376.50" y="176.60" font-size="8.3" text-anchor="start" fill="#231f20" stroke="#231f20" stroke-width="0.2"><tspan font-style="italic">P</tspan>=0.338</text>
<text x="420.00" y="176.60" font-size="8.3" text-anchor="start" fill="#231f20" stroke="#231f20" stroke-width="0.2"><tspan font-style="italic">P</tspan>=0.134</text>
<text x="298.20" y="202.40" font-size="8.3" text-anchor="start" fill="#231f20" stroke="#231f20" stroke-width="0.2"><tspan font-style="italic">P</tspan>=0.833</text>
<text x="338.50" y="202.40" font-size="8.3" text-anchor="start" fill="#231f20" stroke="#231f20" stroke-width="0.2"><tspan font-style="italic">P</tspan>=0.200</text>
<text x="384.00" y="202.40" font-size="8.3" text-anchor="start" fill="#231f20" stroke="#231f20" stroke-width="0.2"><tspan font-style="italic">P</tspan>=0.209</text>
<text x="426.60" y="202.40" font-size="8.3" text-anchor="start" fill="#231f20" stroke="#231f20" stroke-width="0.2"><tspan font-style="italic">P</tspan>=0.527</text>
<text x="0" y="0" font-size="10.4" text-anchor="middle" fill="#231f20" stroke="#231f20" stroke-width="0.3" transform="translate(245.80,274.90) rotate(-90)">Frequency of Progenitor cells in TNC%</text>
<text x="472.60" y="156.60" font-size="16" text-anchor="start" font-weight="bold" fill="#231815" stroke="#231815" stroke-width="0.3" >e</text>
<line x1="506.50" y1="187.60" x2="506.50" y2="357.20" stroke="#231f20" stroke-width="1.0" />
<line x1="500.40" y1="187.50" x2="506.60" y2="187.50" stroke="#231f20" stroke-width="1.0" />
<text x="498.10" y="191.20" font-size="10.0" text-anchor="end" fill="#231f20" stroke="#231f20" stroke-width="0.3">80</text>
<line x1="500.40" y1="230.50" x2="506.60" y2="230.50" stroke="#231f20" stroke-width="1.0" />
<text x="498.10" y="233.70" font-size="10.0" text-anchor="end" fill="#231f20" stroke="#231f20" stroke-width="0.3">60</text>
<line x1="500.40" y1="272.50" x2="506.60" y2="272.50" stroke="#231f20" stroke-width="1.0" />
<text x="498.10" y="276.20" font-size="10.0" text-anchor="end" fill="#231f20" stroke="#231f20" stroke-width="0.3">40</text>
<line x1="500.40" y1="315.50" x2="506.60" y2="315.50" stroke="#231f20" stroke-width="1.0" />
<text x="498.10" y="318.60" font-size="10.0" text-anchor="end" fill="#231f20" stroke="#231f20" stroke-width="0.3">20</text>
<line x1="500.40" y1="357.50" x2="506.60" y2="357.50" stroke="#231f20" stroke-width="1.0" />
<text x="498.10" y="360.80" font-size="10.0" text-anchor="end" fill="#231f20" stroke="#231f20" stroke-width="0.3">0</text>
<rect x="510.50" y="347.50" width="8.00" height="10.00" fill="none" stroke="#231f20" stroke-width="1.0"/>
<path d="M514.50 344.50 V350.50 M512.10 344.50 H516.90 M512.10 350.50 H516.90" stroke="#231f20" stroke-width="1.0" fill="none"/>
<circle cx="514.00" cy="343.20" r="1.7" stroke="#231f20" stroke-width="0.9" fill="#fff"/>
<circle cx="516.20" cy="345.00" r="1.7" stroke="#231f20" stroke-width="0.9" fill="#fff"/>
<circle cx="512.00" cy="347.00" r="1.7" stroke="#231f20" stroke-width="0.9" fill="#fff"/>
<circle cx="516.00" cy="348.00" r="1.7" stroke="#231f20" stroke-width="0.9" fill="#fff"/>
<circle cx="513.00" cy="350.00" r="1.7" stroke="#231f20" stroke-width="0.9" fill="#fff"/>
<circle cx="515.00" cy="352.00" r="1.7" stroke="#231f20" stroke-width="0.9" fill="#fff"/>
<rect x="522.50" y="347.50" width="8.00" height="10.00" fill="none" stroke="#4a5db0" stroke-width="1.0"/>
<path d="M526.50 345.00 V350.00 M524.10 345.50 H528.90 M524.10 350.50 H528.90" stroke="#4a5db0" stroke-width="1.0" fill="none"/>
<circle cx="524.10" cy="345.00" r="1.7" stroke="#4a5db0" stroke-width="0.9" fill="#fff"/>
<circle cx="528.10" cy="345.00" r="1.7" stroke="#4a5db0" stroke-width="0.9" fill="#fff"/>
<circle cx="526.10" cy="348.00" r="1.7" stroke="#4a5db0" stroke-width="0.9" fill="#fff"/>
<circle cx="524.10" cy="351.00" r="1.7" stroke="#4a5db0" stroke-width="0.9" fill="#fff"/>
<circle cx="528.10" cy="351.00" r="1.7" stroke="#4a5db0" stroke-width="0.9" fill="#fff"/>
<rect x="534.50" y="347.50" width="8.00" height="10.00" fill="none" stroke="#e8252b" stroke-width="1.0"/>
<path d="M538.50 340.50 V346.50 M536.10 340.50 H540.90 M536.10 346.50 H540.90" stroke="#e8252b" stroke-width="1.0" fill="none"/>
<circle cx="538.50" cy="341.30" r="1.7" stroke="#e8252b" stroke-width="0.9" fill="#fff"/>
<circle cx="536.00" cy="343.60" r="1.7" stroke="#e8252b" stroke-width="0.9" fill="#fff"/>
<circle cx="541.00" cy="343.60" r="1.7" stroke="#e8252b" stroke-width="0.9" fill="#fff"/>
<circle cx="538.50" cy="345.80" r="1.7" stroke="#e8252b" stroke-width="0.9" fill="#fff"/>
<circle cx="536.50" cy="347.50" r="1.7" stroke="#e8252b" stroke-width="0.9" fill="#fff"/>
<circle cx="540.50" cy="347.50" r="1.7" stroke="#e8252b" stroke-width="0.9" fill="#fff"/>
<rect x="554.50" y="251.50" width="7.00" height="106.00" fill="none" stroke="#231f20" stroke-width="1.0"/>
<path d="M558.50 237.00 V266.00 M556.40 237.50 H560.60 M556.40 266.50 H560.60" stroke="#231f20" stroke-width="1.0" fill="none"/>
<circle cx="557.60" cy="234.00" r="1.7" stroke="#231f20" stroke-width="0.9" fill="#fff"/>
<circle cx="557.60" cy="236.40" r="1.7" stroke="#231f20" stroke-width="0.9" fill="#fff"/>
<circle cx="557.60" cy="253.00" r="1.7" stroke="#231f20" stroke-width="0.9" fill="#fff"/>
<circle cx="559.80" cy="259.70" r="1.7" stroke="#231f20" stroke-width="0.9" fill="#fff"/>
<circle cx="557.60" cy="263.00" r="1.7" stroke="#231f20" stroke-width="0.9" fill="#fff"/>
<circle cx="557.60" cy="266.40" r="1.7" stroke="#231f20" stroke-width="0.9" fill="#fff"/>
<rect x="566.50" y="251.50" width="7.00" height="106.00" fill="none" stroke="#4a5db0" stroke-width="1.0"/>
<path d="M570.50 241.00 V262.00 M568.40 241.50 H572.60 M568.40 262.50 H572.60" stroke="#4a5db0" stroke-width="1.0" fill="none"/>
<circle cx="568.80" cy="238.90" r="1.7" stroke="#4a5db0" stroke-width="0.9" fill="#fff"/>
<circle cx="570.30" cy="241.30" r="1.7" stroke="#4a5db0" stroke-width="0.9" fill="#fff"/>
<circle cx="568.80" cy="246.90" r="1.7" stroke="#4a5db0" stroke-width="0.9" fill="#fff"/>
<circle cx="571.70" cy="246.90" r="1.7" stroke="#4a5db0" stroke-width="0.9" fill="#fff"/>
<circle cx="568.80" cy="265.70" r="1.7" stroke="#4a5db0" stroke-width="0.9" fill="#fff"/>
<circle cx="572.10" cy="265.70" r="1.7" stroke="#4a5db0" stroke-width="0.9" fill="#fff"/>
<rect x="577.50" y="252.50" width="8.00" height="105.00" fill="none" stroke="#e8252b" stroke-width="1.0"/>
<path d="M581.50 240.00 V263.50 M579.10 240.50 H583.90 M579.10 263.50 H583.90" stroke="#e8252b" stroke-width="1.0" fill="none"/>
<circle cx="579.30" cy="239.50" r="1.7" stroke="#e8252b" stroke-width="0.9" fill="#fff"/>
<circle cx="583.70" cy="239.50" r="1.7" stroke="#e8252b" stroke-width="0.9" fill="#fff"/>
<circle cx="581.50" cy="242.40" r="1.7" stroke="#e8252b" stroke-width="0.9" fill="#fff"/>
<circle cx="581.50" cy="258.60" r="1.7" stroke="#e8252b" stroke-width="0.9" fill="#fff"/>
<circle cx="581.50" cy="263.00" r="1.7" stroke="#e8252b" stroke-width="0.9" fill="#fff"/>
<circle cx="581.50" cy="267.50" r="1.7" stroke="#e8252b" stroke-width="0.9" fill="#fff"/>
<rect x="597.50" y="308.50" width="7.00" height="49.00" fill="none" stroke="#231f20" stroke-width="1.0"/>
<path d="M601.50 297.00 V323.50 M599.40 297.50 H603.60 M599.40 323.50 H603.60" stroke="#231f20" stroke-width="1.0" fill="none"/>
<circle cx="599.20" cy="298.60" r="1.7" stroke="#231f20" stroke-width="0.9" fill="#fff"/>
<circle cx="600.90" cy="296.60" r="1.7" stroke="#231f20" stroke-width="0.9" fill="#fff"/>
<circle cx="603.40" cy="296.50" r="1.7" stroke="#231f20" stroke-width="0.9" fill="#fff"/>
<circle cx="601.20" cy="305.40" r="1.7" stroke="#231f20" stroke-width="0.9" fill="#fff"/>
<circle cx="599.20" cy="326.30" r="1.7" stroke="#231f20" stroke-width="0.9" fill="#fff"/>
<circle cx="603.40" cy="324.80" r="1.7" stroke="#231f20" stroke-width="0.9" fill="#fff"/>
<rect x="609.50" y="300.50" width="7.00" height="57.00" fill="none" stroke="#4a5db0" stroke-width="1.0"/>
<path d="M613.50 286.40 V311.00 M611.40 286.50 H615.60 M611.40 311.50 H615.60" stroke="#4a5db0" stroke-width="1.0" fill="none"/>
<circle cx="610.80" cy="282.60" r="1.7" stroke="#4a5db0" stroke-width="0.9" fill="#fff"/>
<circle cx="613.10" cy="281.90" r="1.7" stroke="#4a5db0" stroke-width="0.9" fill="#fff"/>
<circle cx="610.80" cy="304.20" r="1.7" stroke="#4a5db0" stroke-width="0.9" fill="#fff"/>
<circle cx="613.10" cy="307.20" r="1.7" stroke="#4a5db0" stroke-width="0.9" fill="#fff"/>
<circle cx="615.30" cy="309.00" r="1.7" stroke="#4a5db0" stroke-width="0.9" fill="#fff"/>
<circle cx="613.10" cy="312.00" r="1.7" stroke="#4a5db0" stroke-width="0.9" fill="#fff"/>
<rect x="621.50" y="300.50" width="7.00" height="57.00" fill="none" stroke="#e8252b" stroke-width="1.0"/>
<path d="M625.50 288.00 V310.00 M623.40 288.50 H627.60 M623.40 310.50 H627.60" stroke="#e8252b" stroke-width="1.0" fill="none"/>
<circle cx="623.00" cy="287.60" r="1.7" stroke="#e8252b" stroke-width="0.9" fill="#fff"/>
<circle cx="625.00" cy="287.10" r="1.7" stroke="#e8252b" stroke-width="0.9" fill="#fff"/>
<circle cx="625.00" cy="292.60" r="1.7" stroke="#e8252b" stroke-width="0.9" fill="#fff"/>
<circle cx="625.00" cy="309.00" r="1.7" stroke="#e8252b" stroke-width="0.9" fill="#fff"/>
<circle cx="626.90" cy="309.40" r="1.7" stroke="#e8252b" stroke-width="0.9" fill="#fff"/>
<circle cx="622.40" cy="312.40" r="1.7" stroke="#e8252b" stroke-width="0.9" fill="#fff"/>
<rect x="640.50" y="351.50" width="8.00" height="6.00" fill="none" stroke="#231f20" stroke-width="1.0"/>
<circle cx="641.10" cy="355.10" r="1.7" stroke="#231f20" stroke-width="0.9" fill="#fff"/>
<circle cx="643.70" cy="355.00" r="1.7" stroke="#231f20" stroke-width="0.9" fill="#fff"/>
<circle cx="646.30" cy="355.10" r="1.7" stroke="#231f20" stroke-width="0.9" fill="#fff"/>
<circle cx="648.50" cy="354.90" r="1.7" stroke="#231f20" stroke-width="0.9" fill="#fff"/>
<circle cx="642.50" cy="352.80" r="1.7" stroke="#231f20" stroke-width="0.9" fill="#fff"/>
<circle cx="645.50" cy="352.60" r="1.7" stroke="#231f20" stroke-width="0.9" fill="#fff"/>
<rect x="652.50" y="352.50" width="8.00" height="5.00" fill="none" stroke="#4a5db0" stroke-width="1.0"/>
<circle cx="654.00" cy="354.80" r="1.7" stroke="#4a5db0" stroke-width="0.9" fill="#fff"/>
<circle cx="656.50" cy="354.60" r="1.7" stroke="#4a5db0" stroke-width="0.9" fill="#fff"/>
<circle cx="659.00" cy="354.80" r="1.7" stroke="#4a5db0" stroke-width="0.9" fill="#fff"/>
<circle cx="655.20" cy="352.80" r="1.7" stroke="#4a5db0" stroke-width="0.9" fill="#fff"/>
<circle cx="657.80" cy="352.80" r="1.7" stroke="#4a5db0" stroke-width="0.9" fill="#fff"/>
<rect x="664.50" y="351.50" width="8.00" height="6.00" fill="none" stroke="#e8252b" stroke-width="1.0"/>
<circle cx="666.00" cy="354.80" r="1.7" stroke="#e8252b" stroke-width="0.9" fill="#fff"/>
<circle cx="668.50" cy="354.60" r="1.7" stroke="#e8252b" stroke-width="0.9" fill="#fff"/>
<circle cx="671.00" cy="354.80" r="1.7" stroke="#e8252b" stroke-width="0.9" fill="#fff"/>
<circle cx="667.20" cy="352.60" r="1.7" stroke="#e8252b" stroke-width="0.9" fill="#fff"/>
<circle cx="669.80" cy="352.40" r="1.7" stroke="#e8252b" stroke-width="0.9" fill="#fff"/>
<line x1="500.40" y1="357.50" x2="676.60" y2="357.50" stroke="#231f20" stroke-width="1.0" />
<line x1="526.50" y1="357.20" x2="526.50" y2="363.00" stroke="#231f20" stroke-width="1.0" />
<text x="526.40" y="375.40" font-size="10.3" text-anchor="middle" font-weight="normal" fill="#231f20" stroke="#231f20" stroke-width="0.3" >Ery</text>
<line x1="569.50" y1="357.20" x2="569.50" y2="363.00" stroke="#231f20" stroke-width="1.0" />
<text x="569.90" y="375.40" font-size="10.3" text-anchor="middle" font-weight="normal" fill="#231f20" stroke="#231f20" stroke-width="0.3" >Myeloid</text>
<line x1="613.50" y1="357.20" x2="613.50" y2="363.00" stroke="#231f20" stroke-width="1.0" />
<text x="613.20" y="375.40" font-size="10.3" text-anchor="middle" font-weight="normal" fill="#231f20" stroke="#231f20" stroke-width="0.3" >T cell</text>
<line x1="656.50" y1="357.20" x2="656.50" y2="363.00" stroke="#231f20" stroke-width="1.0" />
<text x="656.40" y="375.40" font-size="10.3" text-anchor="middle" font-weight="normal" fill="#231f20" stroke="#231f20" stroke-width="0.3" >B cell</text>
<polyline points="513.50,199.20 513.50,191.50 541.50,191.50 541.50,199.20" stroke="#231f20" stroke-width="1.0" fill="none" />
<polyline points="526.50,219.40 526.50,214.50 540.50,214.50 540.50,219.40" stroke="#231f20" stroke-width="1.0" fill="none" />
<polyline points="556.50,199.80 556.50,192.50 584.50,192.50 584.50,199.80" stroke="#231f20" stroke-width="1.0" fill="none" />
<polyline points="569.50,219.90 569.50,215.50 583.50,215.50 583.50,219.90" stroke="#231f20" stroke-width="1.0" fill="none" />
<polyline points="600.50,199.40 600.50,191.50 628.50,191.50 628.50,199.40" stroke="#231f20" stroke-width="1.0" fill="none" />
<polyline points="612.50,219.60 612.50,214.50 626.50,214.50 626.50,219.60" stroke="#231f20" stroke-width="1.0" fill="none" />
<polyline points="642.50,199.80 642.50,192.50 669.50,192.50 669.50,199.80" stroke="#231f20" stroke-width="1.0" fill="none" />
<polyline points="652.50,220.80 652.50,216.50 666.50,216.50 666.50,220.80" stroke="#231f20" stroke-width="1.0" fill="none" />
<text x="511.90" y="187.00" font-size="8.3" text-anchor="start" fill="#231f20" stroke="#231f20" stroke-width="0.2"><tspan font-style="italic">P</tspan>=0.059</text>
<text x="563.50" y="187.70" font-size="8.3" text-anchor="start" fill="#231f20" stroke="#231f20" stroke-width="0.2"><tspan font-style="italic">P</tspan>=0.927</text>
<text x="607.70" y="187.00" font-size="8.3" text-anchor="start" fill="#231f20" stroke="#231f20" stroke-width="0.2"><tspan font-style="italic">P</tspan>=0.129</text>
<text x="647.10" y="188.00" font-size="8.3" text-anchor="start" fill="#231f20" stroke="#231f20" stroke-width="0.2"><tspan font-style="italic">P</tspan>=0.494</text>
<text x="515.30" y="210.70" font-size="8.3" text-anchor="start" fill="#231f20" stroke="#231f20" stroke-width="0.2"><tspan font-style="italic">P</tspan>=0.286</text>
<text x="571.70" y="211.50" font-size="8.3" text-anchor="start" fill="#231f20" stroke="#231f20" stroke-width="0.2"><tspan font-style="italic">P</tspan>=0.908</text>
<text x="612.70" y="210.70" font-size="8.3" text-anchor="start" fill="#231f20" stroke="#231f20" stroke-width="0.2"><tspan font-style="italic">P</tspan>=0.989</text>
<text x="653.30" y="211.20" font-size="8.3" text-anchor="start" fill="#231f20" stroke="#231f20" stroke-width="0.2"><tspan font-style="italic">P</tspan>=0.062</text>
<text x="0" y="0" font-size="10.4" text-anchor="middle" fill="#231f20" stroke="#231f20" stroke-width="0.3" transform="translate(479.20,271.00) rotate(-90)">Frequency of Lineage cells in TNC %</text>
<text x="3.40" y="410.70" font-size="16" text-anchor="start" font-weight="bold" fill="#231815" stroke="#231815" stroke-width="0.3" >f</text>
<line x1="67.50" y1="435.40" x2="67.50" y2="505.50" stroke="#231f20" stroke-width="1.0" />
<line x1="67.50" y1="517.30" x2="67.50" y2="587.70" stroke="#231f20" stroke-width="1.0" />
<line x1="61.70" y1="435.50" x2="67.20" y2="435.50" stroke="#231f20" stroke-width="1.0" />
<text x="55.40" y="438.33" font-size="9.8" text-anchor="end" fill="#231f20" stroke="#231f20" stroke-width="0.3">6×10</text>
<text x="60.20" y="435.50" font-size="6.2" text-anchor="end" fill="#231f20" stroke="#231f20" stroke-width="0.15">6</text>
<line x1="61.70" y1="463.50" x2="67.20" y2="463.50" stroke="#231f20" stroke-width="1.0" />
<text x="55.40" y="466.13" font-size="9.8" text-anchor="end" fill="#231f20" stroke="#231f20" stroke-width="0.3">4×10</text>
<text x="60.20" y="463.30" font-size="6.2" text-anchor="end" fill="#231f20" stroke="#231f20" stroke-width="0.15">6</text>
<line x1="61.70" y1="491.50" x2="67.20" y2="491.50" stroke="#231f20" stroke-width="1.0" />
<text x="55.40" y="494.43" font-size="9.8" text-anchor="end" fill="#231f20" stroke="#231f20" stroke-width="0.3">2×10</text>
<text x="60.20" y="491.60" font-size="6.2" text-anchor="end" fill="#231f20" stroke="#231f20" stroke-width="0.15">6</text>
<text x="60.50" y="521.43" font-size="9.8" text-anchor="end" fill="#231f20" stroke="#231f20" stroke-width="0.3">200000</text>
<line x1="61.70" y1="535.50" x2="67.20" y2="535.50" stroke="#231f20" stroke-width="1.0" />
<text x="60.50" y="538.83" font-size="9.8" text-anchor="end" fill="#231f20" stroke="#231f20" stroke-width="0.3">150000</text>
<line x1="61.70" y1="552.50" x2="67.20" y2="552.50" stroke="#231f20" stroke-width="1.0" />
<text x="60.50" y="556.23" font-size="9.8" text-anchor="end" fill="#231f20" stroke="#231f20" stroke-width="0.3">100000</text>
<line x1="61.70" y1="570.50" x2="67.20" y2="570.50" stroke="#231f20" stroke-width="1.0" />
<text x="60.50" y="573.73" font-size="9.8" text-anchor="end" fill="#231f20" stroke="#231f20" stroke-width="0.3">50000</text>
<line x1="61.70" y1="587.50" x2="67.20" y2="587.50" stroke="#231f20" stroke-width="1.0" />
<text x="60.50" y="591.23" font-size="9.8" text-anchor="end" fill="#231f20" stroke="#231f20" stroke-width="0.3">0</text>
<line x1="63.40" y1="502.00" x2="72.00" y2="509.80" stroke="#231f20" stroke-width="1.0" />
<line x1="63.40" y1="513.10" x2="72.00" y2="520.80" stroke="#231f20" stroke-width="1.0" />
<rect x="72.50" y="479.50" width="9.00" height="108.00" fill="none" stroke="#231f20" stroke-width="1.0"/>
<path d="M77.50 473.60 V492.10 M74.80 473.50 H80.20 M74.80 492.50 H80.20" stroke="#231f20" stroke-width="1.0" fill="none"/>
<circle cx="76.80" cy="466.40" r="1.7" stroke="#231f20" stroke-width="0.9" fill="#fff"/>
<circle cx="73.70" cy="471.00" r="1.7" stroke="#231f20" stroke-width="0.9" fill="#fff"/>
<circle cx="77.40" cy="471.90" r="1.7" stroke="#231f20" stroke-width="0.9" fill="#fff"/>
<circle cx="77.00" cy="480.50" r="1.7" stroke="#231f20" stroke-width="0.9" fill="#fff"/>
<circle cx="76.80" cy="483.80" r="1.7" stroke="#231f20" stroke-width="0.9" fill="#fff"/>
<circle cx="76.80" cy="501.40" r="1.7" stroke="#231f20" stroke-width="0.9" fill="#fff"/>
<rect x="86.50" y="484.50" width="9.00" height="103.00" fill="none" stroke="#4a5db0" stroke-width="1.0"/>
<path d="M91.50 475.90 V492.70 M88.80 475.50 H94.20 M88.80 492.50 H94.20" stroke="#4a5db0" stroke-width="1.0" fill="none"/>
<circle cx="91.00" cy="474.50" r="1.7" stroke="#4a5db0" stroke-width="0.9" fill="#fff"/>
<circle cx="87.80" cy="477.60" r="1.7" stroke="#4a5db0" stroke-width="0.9" fill="#fff"/>
<circle cx="87.80" cy="483.10" r="1.7" stroke="#4a5db0" stroke-width="0.9" fill="#fff"/>
<circle cx="91.00" cy="482.90" r="1.7" stroke="#4a5db0" stroke-width="0.9" fill="#fff"/>
<circle cx="94.80" cy="493.30" r="1.7" stroke="#4a5db0" stroke-width="0.9" fill="#fff"/>
<circle cx="87.80" cy="495.80" r="1.7" stroke="#4a5db0" stroke-width="0.9" fill="#fff"/>
<rect x="101.50" y="479.50" width="9.00" height="108.00" fill="none" stroke="#e8252b" stroke-width="1.0"/>
<path d="M106.50 462.60 V496.50 M103.80 462.50 H109.20 M103.80 496.50 H109.20" stroke="#e8252b" stroke-width="1.0" fill="none"/>
<circle cx="105.50" cy="458.30" r="1.7" stroke="#e8252b" stroke-width="0.9" fill="#fff"/>
<circle cx="105.50" cy="464.90" r="1.7" stroke="#e8252b" stroke-width="0.9" fill="#fff"/>
<circle cx="105.50" cy="472.20" r="1.7" stroke="#e8252b" stroke-width="0.9" fill="#fff"/>
<circle cx="105.50" cy="485.40" r="1.7" stroke="#e8252b" stroke-width="0.9" fill="#fff"/>
<circle cx="102.30" cy="496.80" r="1.7" stroke="#e8252b" stroke-width="0.9" fill="#fff"/>
<circle cx="109.20" cy="496.80" r="1.7" stroke="#e8252b" stroke-width="0.9" fill="#fff"/>
<rect x="124.50" y="551.50" width="9.00" height="36.00" fill="none" stroke="#231f20" stroke-width="1.0"/>
<path d="M129.50 533.30 V569.20 M126.80 533.50 H132.20 M126.80 569.50 H132.20" stroke="#231f20" stroke-width="1.0" fill="none"/>
<circle cx="129.50" cy="531.00" r="1.7" stroke="#231f20" stroke-width="0.9" fill="#fff"/>
<circle cx="132.60" cy="529.80" r="1.7" stroke="#231f20" stroke-width="0.9" fill="#fff"/>
<circle cx="129.50" cy="549.90" r="1.7" stroke="#231f20" stroke-width="0.9" fill="#fff"/>
<circle cx="129.50" cy="562.30" r="1.7" stroke="#231f20" stroke-width="0.9" fill="#fff"/>
<circle cx="132.60" cy="561.10" r="1.7" stroke="#231f20" stroke-width="0.9" fill="#fff"/>
<circle cx="129.50" cy="573.30" r="1.7" stroke="#231f20" stroke-width="0.9" fill="#fff"/>
<rect x="139.50" y="557.50" width="9.00" height="30.00" fill="none" stroke="#4a5db0" stroke-width="1.0"/>
<path d="M144.50 544.00 V567.50 M141.80 544.50 H147.20 M141.80 567.50 H147.20" stroke="#4a5db0" stroke-width="1.0" fill="none"/>
<circle cx="143.70" cy="544.90" r="1.7" stroke="#4a5db0" stroke-width="0.9" fill="#fff"/>
<circle cx="146.80" cy="543.20" r="1.7" stroke="#4a5db0" stroke-width="0.9" fill="#fff"/>
<circle cx="143.70" cy="557.10" r="1.7" stroke="#4a5db0" stroke-width="0.9" fill="#fff"/>
<circle cx="143.70" cy="560.80" r="1.7" stroke="#4a5db0" stroke-width="0.9" fill="#fff"/>
<circle cx="143.70" cy="564.60" r="1.7" stroke="#4a5db0" stroke-width="0.9" fill="#fff"/>
<circle cx="143.70" cy="572.70" r="1.7" stroke="#4a5db0" stroke-width="0.9" fill="#fff"/>
<rect x="153.50" y="562.50" width="9.00" height="25.00" fill="none" stroke="#e8252b" stroke-width="1.0"/>
<path d="M158.50 551.00 V567.00 M155.80 551.50 H161.20 M155.80 567.50 H161.20" stroke="#e8252b" stroke-width="1.0" fill="none"/>
<circle cx="158.10" cy="542.60" r="1.7" stroke="#e8252b" stroke-width="0.9" fill="#fff"/>
<circle cx="158.10" cy="557.30" r="1.7" stroke="#e8252b" stroke-width="0.9" fill="#fff"/>
<circle cx="158.10" cy="562.30" r="1.7" stroke="#e8252b" stroke-width="0.9" fill="#fff"/>
<circle cx="161.30" cy="566.30" r="1.7" stroke="#e8252b" stroke-width="0.9" fill="#fff"/>
<circle cx="158.10" cy="569.40" r="1.7" stroke="#e8252b" stroke-width="0.9" fill="#fff"/>
<circle cx="158.10" cy="573.80" r="1.7" stroke="#e8252b" stroke-width="0.9" fill="#fff"/>
<rect x="176.50" y="584.50" width="10.00" height="3.00" fill="none" stroke="#231f20" stroke-width="1.0"/>
<circle cx="178.20" cy="585.70" r="1.7" stroke="#231f20" stroke-width="0.9" fill="#fff"/>
<circle cx="180.80" cy="585.50" r="1.7" stroke="#231f20" stroke-width="0.9" fill="#fff"/>
<circle cx="183.40" cy="585.70" r="1.7" stroke="#231f20" stroke-width="0.9" fill="#fff"/>
<circle cx="185.80" cy="585.50" r="1.7" stroke="#231f20" stroke-width="0.9" fill="#fff"/>
<circle cx="179.50" cy="583.80" r="1.7" stroke="#231f20" stroke-width="0.9" fill="#fff"/>
<circle cx="182.20" cy="583.60" r="1.7" stroke="#231f20" stroke-width="0.9" fill="#fff"/>
<circle cx="184.70" cy="583.80" r="1.7" stroke="#231f20" stroke-width="0.9" fill="#fff"/>
<rect x="191.50" y="584.50" width="9.00" height="3.00" fill="none" stroke="#4a5db0" stroke-width="1.0"/>
<circle cx="192.90" cy="585.70" r="1.7" stroke="#4a5db0" stroke-width="0.9" fill="#fff"/>
<circle cx="195.50" cy="585.50" r="1.7" stroke="#4a5db0" stroke-width="0.9" fill="#fff"/>
<circle cx="198.10" cy="585.70" r="1.7" stroke="#4a5db0" stroke-width="0.9" fill="#fff"/>
<circle cx="200.50" cy="585.50" r="1.7" stroke="#4a5db0" stroke-width="0.9" fill="#fff"/>
<circle cx="194.20" cy="583.80" r="1.7" stroke="#4a5db0" stroke-width="0.9" fill="#fff"/>
<circle cx="196.90" cy="583.60" r="1.7" stroke="#4a5db0" stroke-width="0.9" fill="#fff"/>
<circle cx="199.40" cy="583.80" r="1.7" stroke="#4a5db0" stroke-width="0.9" fill="#fff"/>
<rect x="205.50" y="584.50" width="10.00" height="3.00" fill="none" stroke="#e8252b" stroke-width="1.0"/>
<circle cx="206.90" cy="585.70" r="1.7" stroke="#e8252b" stroke-width="0.9" fill="#fff"/>
<circle cx="209.50" cy="585.50" r="1.7" stroke="#e8252b" stroke-width="0.9" fill="#fff"/>
<circle cx="212.10" cy="585.70" r="1.7" stroke="#e8252b" stroke-width="0.9" fill="#fff"/>
<circle cx="214.50" cy="585.50" r="1.7" stroke="#e8252b" stroke-width="0.9" fill="#fff"/>
<circle cx="208.20" cy="583.80" r="1.7" stroke="#e8252b" stroke-width="0.9" fill="#fff"/>
<circle cx="210.90" cy="583.60" r="1.7" stroke="#e8252b" stroke-width="0.9" fill="#fff"/>
<circle cx="213.40" cy="583.80" r="1.7" stroke="#e8252b" stroke-width="0.9" fill="#fff"/>
<line x1="61.70" y1="587.50" x2="220.50" y2="587.50" stroke="#231f20" stroke-width="1.0" />
<line x1="91.50" y1="587.70" x2="91.50" y2="593.00" stroke="#231f20" stroke-width="1.0" />
<text x="91.10" y="604.30" font-size="10.3" text-anchor="middle" font-weight="normal" fill="#231f20" stroke="#231f20" stroke-width="0.3" >Lin-</text>
<line x1="143.50" y1="587.70" x2="143.50" y2="593.00" stroke="#231f20" stroke-width="1.0" />
<text x="143.70" y="604.30" font-size="10.3" text-anchor="middle" font-weight="normal" fill="#231f20" stroke="#231f20" stroke-width="0.3" >LSK</text>
<line x1="195.50" y1="587.70" x2="195.50" y2="593.00" stroke="#231f20" stroke-width="1.0" />
<text x="195.90" y="604.30" font-size="10.3" text-anchor="middle" font-weight="normal" fill="#231f20" stroke="#231f20" stroke-width="0.3" >HSC</text>
<polyline points="74.50,428.30 74.50,420.50 109.50,420.50 109.50,428.30" stroke="#231f20" stroke-width="1.0" fill="none" />
<polyline points="90.50,447.60 90.50,443.50 109.50,443.50 109.50,447.60" stroke="#231f20" stroke-width="1.0" fill="none" />
<polyline points="127.50,429.50 127.50,422.50 162.50,422.50 162.50,429.50" stroke="#231f20" stroke-width="1.0" fill="none" />
<polyline points="143.50,448.40 143.50,444.50 162.50,444.50 162.50,448.40" stroke="#231f20" stroke-width="1.0" fill="none" />
<polyline points="179.50,429.50 179.50,422.50 214.50,422.50 214.50,429.50" stroke="#231f20" stroke-width="1.0" fill="none" />
<polyline points="195.50,448.40 195.50,444.50 214.50,444.50 214.50,448.40" stroke="#231f20" stroke-width="1.0" fill="none" />
<text x="78.70" y="417.40" font-size="7.9" text-anchor="start" fill="#231f20" stroke="#231f20" stroke-width="0.2"><tspan font-style="italic">P</tspan>=0.975</text>
<text x="130.60" y="418.50" font-size="7.9" text-anchor="start" fill="#231f20" stroke="#231f20" stroke-width="0.2"><tspan font-style="italic">P</tspan>=0.325</text>
<text x="182.80" y="418.50" font-size="7.9" text-anchor="start" fill="#231f20" stroke="#231f20" stroke-width="0.2"><tspan font-style="italic">P</tspan>=0.554</text>
<text x="89.10" y="439.90" font-size="7.9" text-anchor="start" fill="#231f20" stroke="#231f20" stroke-width="0.2"><tspan font-style="italic">P</tspan>=0.536</text>
<text x="140.10" y="439.80" font-size="7.9" text-anchor="start" fill="#231f20" stroke="#231f20" stroke-width="0.2"><tspan font-style="italic">P</tspan>=0.582</text>
<text x="192.70" y="439.80" font-size="7.9" text-anchor="start" fill="#231f20" stroke="#231f20" stroke-width="0.2"><tspan font-style="italic">P</tspan>=0.874</text>
<text x="0" y="0" font-size="10.4" text-anchor="middle" fill="#231f20" stroke="#231f20" stroke-width="0.3" transform="translate(9.90,509.50) rotate(-90)">Absolute number of HSPCs</text>
<text x="0" y="0" font-size="10.4" text-anchor="middle" fill="#231f20" stroke="#231f20" stroke-width="0.3" transform="translate(21.60,513.00) rotate(-90)">(per legs of femur and tibia)</text>
<text x="232.60" y="411.10" font-size="16" text-anchor="start" font-weight="bold" fill="#231815" stroke="#231815" stroke-width="0.3" >g</text>
<line x1="297.50" y1="433.50" x2="297.50" y2="586.40" stroke="#231f20" stroke-width="1.0" />
<line x1="291.30" y1="433.50" x2="297.10" y2="433.50" stroke="#231f20" stroke-width="1.0" />
<text x="290.10" y="437.03" font-size="9.8" text-anchor="end" fill="#231f20" stroke="#231f20" stroke-width="0.3">200000</text>
<line x1="291.30" y1="471.50" x2="297.10" y2="471.50" stroke="#231f20" stroke-width="1.0" />
<text x="290.10" y="475.43" font-size="9.8" text-anchor="end" fill="#231f20" stroke="#231f20" stroke-width="0.3">150000</text>
<line x1="291.30" y1="510.50" x2="297.10" y2="510.50" stroke="#231f20" stroke-width="1.0" />
<text x="290.10" y="513.83" font-size="9.8" text-anchor="end" fill="#231f20" stroke="#231f20" stroke-width="0.3">100000</text>
<line x1="291.30" y1="548.50" x2="297.10" y2="548.50" stroke="#231f20" stroke-width="1.0" />
<text x="290.10" y="552.03" font-size="9.8" text-anchor="end" fill="#231f20" stroke="#231f20" stroke-width="0.3">50000</text>
<line x1="291.30" y1="586.50" x2="297.10" y2="586.50" stroke="#231f20" stroke-width="1.0" />
<text x="290.10" y="589.93" font-size="9.8" text-anchor="end" fill="#231f20" stroke="#231f20" stroke-width="0.3">0</text>
<rect x="300.50" y="568.50" width="7.00" height="18.00" fill="none" stroke="#231f20" stroke-width="1.0"/>
<path d="M304.50 563.00 V574.00 M302.40 563.50 H306.60 M302.40 574.50 H306.60" stroke="#231f20" stroke-width="1.0" fill="none"/>
<circle cx="304.10" cy="562.50" r="1.7" stroke="#231f20" stroke-width="0.9" fill="#fff"/>
<circle cx="304.10" cy="565.50" r="1.7" stroke="#231f20" stroke-width="0.9" fill="#fff"/>
<circle cx="302.00" cy="569.50" r="1.7" stroke="#231f20" stroke-width="0.9" fill="#fff"/>
<circle cx="305.80" cy="571.20" r="1.7" stroke="#231f20" stroke-width="0.9" fill="#fff"/>
<circle cx="302.00" cy="573.60" r="1.7" stroke="#231f20" stroke-width="0.9" fill="#fff"/>
<circle cx="304.10" cy="567.80" r="1.7" stroke="#231f20" stroke-width="0.9" fill="#fff"/>
<rect x="311.50" y="570.50" width="7.00" height="16.00" fill="none" stroke="#4a5db0" stroke-width="1.0"/>
<path d="M315.50 563.00 V578.00 M313.40 563.50 H317.60 M313.40 578.50 H317.60" stroke="#4a5db0" stroke-width="1.0" fill="none"/>
<circle cx="312.90" cy="559.60" r="1.7" stroke="#4a5db0" stroke-width="0.9" fill="#fff"/>
<circle cx="315.20" cy="561.60" r="1.7" stroke="#4a5db0" stroke-width="0.9" fill="#fff"/>
<circle cx="315.20" cy="565.40" r="1.7" stroke="#4a5db0" stroke-width="0.9" fill="#fff"/>
<circle cx="315.20" cy="572.50" r="1.7" stroke="#4a5db0" stroke-width="0.9" fill="#fff"/>
<circle cx="316.50" cy="576.10" r="1.7" stroke="#4a5db0" stroke-width="0.9" fill="#fff"/>
<circle cx="315.20" cy="584.20" r="1.7" stroke="#4a5db0" stroke-width="0.9" fill="#fff"/>
<rect x="321.50" y="568.50" width="8.00" height="18.00" fill="none" stroke="#e8252b" stroke-width="1.0"/>
<path d="M325.50 562.50 V577.00 M323.10 562.50 H327.90 M323.10 577.50 H327.90" stroke="#e8252b" stroke-width="1.0" fill="none"/>
<circle cx="325.10" cy="557.10" r="1.7" stroke="#e8252b" stroke-width="0.9" fill="#fff"/>
<circle cx="323.50" cy="569.20" r="1.7" stroke="#e8252b" stroke-width="0.9" fill="#fff"/>
<circle cx="327.30" cy="569.50" r="1.7" stroke="#e8252b" stroke-width="0.9" fill="#fff"/>
<circle cx="325.10" cy="572.80" r="1.7" stroke="#e8252b" stroke-width="0.9" fill="#fff"/>
<circle cx="323.50" cy="576.50" r="1.7" stroke="#e8252b" stroke-width="0.9" fill="#fff"/>
<circle cx="327.30" cy="576.50" r="1.7" stroke="#e8252b" stroke-width="0.9" fill="#fff"/>
<rect x="339.50" y="518.50" width="7.00" height="68.00" fill="none" stroke="#231f20" stroke-width="1.0"/>
<path d="M343.50 504.90 V532.00 M341.40 504.50 H345.60 M341.40 532.50 H345.60" stroke="#231f20" stroke-width="1.0" fill="none"/>
<circle cx="343.00" cy="497.00" r="1.7" stroke="#231f20" stroke-width="0.9" fill="#fff"/>
<circle cx="343.00" cy="511.20" r="1.7" stroke="#231f20" stroke-width="0.9" fill="#fff"/>
<circle cx="343.00" cy="515.70" r="1.7" stroke="#231f20" stroke-width="0.9" fill="#fff"/>
<circle cx="343.00" cy="522.80" r="1.7" stroke="#231f20" stroke-width="0.9" fill="#fff"/>
<circle cx="343.00" cy="528.90" r="1.7" stroke="#231f20" stroke-width="0.9" fill="#fff"/>
<circle cx="343.00" cy="535.00" r="1.7" stroke="#231f20" stroke-width="0.9" fill="#fff"/>
<rect x="350.50" y="519.50" width="7.00" height="67.00" fill="none" stroke="#4a5db0" stroke-width="1.0"/>
<path d="M354.50 510.70 V527.00 M352.40 510.50 H356.60 M352.40 527.50 H356.60" stroke="#4a5db0" stroke-width="1.0" fill="none"/>
<circle cx="352.10" cy="510.70" r="1.7" stroke="#4a5db0" stroke-width="0.9" fill="#fff"/>
<circle cx="354.60" cy="510.70" r="1.7" stroke="#4a5db0" stroke-width="0.9" fill="#fff"/>
<circle cx="354.60" cy="516.50" r="1.7" stroke="#4a5db0" stroke-width="0.9" fill="#fff"/>
<circle cx="356.00" cy="522.30" r="1.7" stroke="#4a5db0" stroke-width="0.9" fill="#fff"/>
<circle cx="353.00" cy="525.60" r="1.7" stroke="#4a5db0" stroke-width="0.9" fill="#fff"/>
<circle cx="354.60" cy="531.40" r="1.7" stroke="#4a5db0" stroke-width="0.9" fill="#fff"/>
<rect x="360.50" y="528.50" width="7.00" height="58.00" fill="none" stroke="#e8252b" stroke-width="1.0"/>
<path d="M364.50 511.20 V546.00 M362.40 511.50 H366.60 M362.40 546.50 H366.60" stroke="#e8252b" stroke-width="1.0" fill="none"/>
<circle cx="364.20" cy="507.40" r="1.7" stroke="#e8252b" stroke-width="0.9" fill="#fff"/>
<circle cx="364.20" cy="511.20" r="1.7" stroke="#e8252b" stroke-width="0.9" fill="#fff"/>
<circle cx="362.10" cy="529.40" r="1.7" stroke="#e8252b" stroke-width="0.9" fill="#fff"/>
<circle cx="366.60" cy="529.80" r="1.7" stroke="#e8252b" stroke-width="0.9" fill="#fff"/>
<circle cx="364.20" cy="539.70" r="1.7" stroke="#e8252b" stroke-width="0.9" fill="#fff"/>
<circle cx="364.20" cy="548.80" r="1.7" stroke="#e8252b" stroke-width="0.9" fill="#fff"/>
<rect x="378.50" y="534.50" width="7.00" height="52.00" fill="none" stroke="#231f20" stroke-width="1.0"/>
<path d="M382.50 498.80 V569.30 M380.40 498.50 H384.60 M380.40 569.50 H384.60" stroke="#231f20" stroke-width="1.0" fill="none"/>
<circle cx="382.00" cy="483.50" r="1.7" stroke="#231f20" stroke-width="0.9" fill="#fff"/>
<circle cx="382.00" cy="495.80" r="1.7" stroke="#231f20" stroke-width="0.9" fill="#fff"/>
<circle cx="382.00" cy="545.00" r="1.7" stroke="#231f20" stroke-width="0.9" fill="#fff"/>
<circle cx="382.00" cy="553.80" r="1.7" stroke="#231f20" stroke-width="0.9" fill="#fff"/>
<circle cx="382.00" cy="560.90" r="1.7" stroke="#231f20" stroke-width="0.9" fill="#fff"/>
<circle cx="382.00" cy="566.30" r="1.7" stroke="#231f20" stroke-width="0.9" fill="#fff"/>
<rect x="389.50" y="526.50" width="6.00" height="60.00" fill="none" stroke="#4a5db0" stroke-width="1.0"/>
<path d="M392.50 510.70 V540.50 M390.70 510.50 H394.30 M390.70 540.50 H394.30" stroke="#4a5db0" stroke-width="1.0" fill="none"/>
<circle cx="392.60" cy="506.70" r="1.7" stroke="#4a5db0" stroke-width="0.9" fill="#fff"/>
<circle cx="390.80" cy="517.60" r="1.7" stroke="#4a5db0" stroke-width="0.9" fill="#fff"/>
<circle cx="393.40" cy="519.60" r="1.7" stroke="#4a5db0" stroke-width="0.9" fill="#fff"/>
<circle cx="392.60" cy="524.60" r="1.7" stroke="#4a5db0" stroke-width="0.9" fill="#fff"/>
<circle cx="392.60" cy="533.10" r="1.7" stroke="#4a5db0" stroke-width="0.9" fill="#fff"/>
<circle cx="392.60" cy="551.80" r="1.7" stroke="#4a5db0" stroke-width="0.9" fill="#fff"/>
<rect x="399.50" y="545.50" width="7.00" height="41.00" fill="none" stroke="#e8252b" stroke-width="1.0"/>
<path d="M403.50 526.00 V566.00 M401.40 526.50 H405.60 M401.40 566.50 H405.60" stroke="#e8252b" stroke-width="1.0" fill="none"/>
<circle cx="401.40" cy="523.60" r="1.7" stroke="#e8252b" stroke-width="0.9" fill="#fff"/>
<circle cx="403.30" cy="524.00" r="1.7" stroke="#e8252b" stroke-width="0.9" fill="#fff"/>
<circle cx="403.30" cy="529.60" r="1.7" stroke="#e8252b" stroke-width="0.9" fill="#fff"/>
<circle cx="403.30" cy="549.00" r="1.7" stroke="#e8252b" stroke-width="0.9" fill="#fff"/>
<circle cx="403.30" cy="567.70" r="1.7" stroke="#e8252b" stroke-width="0.9" fill="#fff"/>
<circle cx="403.30" cy="573.60" r="1.7" stroke="#e8252b" stroke-width="0.9" fill="#fff"/>
<rect x="417.50" y="535.50" width="7.00" height="51.00" fill="none" stroke="#231f20" stroke-width="1.0"/>
<path d="M421.50 495.80 V573.20 M419.40 495.50 H423.60 M419.40 573.50 H423.60" stroke="#231f20" stroke-width="1.0" fill="none"/>
<circle cx="421.00" cy="480.90" r="1.7" stroke="#231f20" stroke-width="0.9" fill="#fff"/>
<circle cx="421.00" cy="488.90" r="1.7" stroke="#231f20" stroke-width="0.9" fill="#fff"/>
<circle cx="421.00" cy="551.00" r="1.7" stroke="#231f20" stroke-width="0.9" fill="#fff"/>
<circle cx="421.00" cy="558.90" r="1.7" stroke="#231f20" stroke-width="0.9" fill="#fff"/>
<circle cx="419.20" cy="563.30" r="1.7" stroke="#231f20" stroke-width="0.9" fill="#fff"/>
<circle cx="422.60" cy="562.90" r="1.7" stroke="#231f20" stroke-width="0.9" fill="#fff"/>
<rect x="428.50" y="556.50" width="7.00" height="30.00" fill="none" stroke="#4a5db0" stroke-width="1.0"/>
<path d="M432.50 544.40 V567.30 M430.40 544.50 H434.60 M430.40 567.50 H434.60" stroke="#4a5db0" stroke-width="1.0" fill="none"/>
<circle cx="431.90" cy="537.10" r="1.7" stroke="#4a5db0" stroke-width="0.9" fill="#fff"/>
<circle cx="433.50" cy="551.80" r="1.7" stroke="#4a5db0" stroke-width="0.9" fill="#fff"/>
<circle cx="431.90" cy="556.40" r="1.7" stroke="#4a5db0" stroke-width="0.9" fill="#fff"/>
<circle cx="433.90" cy="558.30" r="1.7" stroke="#4a5db0" stroke-width="0.9" fill="#fff"/>
<circle cx="431.90" cy="562.30" r="1.7" stroke="#4a5db0" stroke-width="0.9" fill="#fff"/>
<circle cx="431.90" cy="570.80" r="1.7" stroke="#4a5db0" stroke-width="0.9" fill="#fff"/>
<rect x="439.50" y="559.50" width="6.00" height="27.00" fill="none" stroke="#e8252b" stroke-width="1.0"/>
<path d="M442.50 545.00 V567.00 M440.70 545.50 H444.30 M440.70 567.50 H444.30" stroke="#e8252b" stroke-width="1.0" fill="none"/>
<circle cx="441.90" cy="533.90" r="1.7" stroke="#e8252b" stroke-width="0.9" fill="#fff"/>
<circle cx="444.40" cy="555.80" r="1.7" stroke="#e8252b" stroke-width="0.9" fill="#fff"/>
<circle cx="441.90" cy="557.30" r="1.7" stroke="#e8252b" stroke-width="0.9" fill="#fff"/>
<circle cx="441.90" cy="562.30" r="1.7" stroke="#e8252b" stroke-width="0.9" fill="#fff"/>
<circle cx="443.80" cy="572.20" r="1.7" stroke="#e8252b" stroke-width="0.9" fill="#fff"/>
<circle cx="439.90" cy="574.80" r="1.7" stroke="#e8252b" stroke-width="0.9" fill="#fff"/>
<line x1="291.30" y1="586.50" x2="450.20" y2="586.50" stroke="#231f20" stroke-width="1.0" />
<line x1="314.50" y1="586.40" x2="314.50" y2="592.00" stroke="#231f20" stroke-width="1.0" />
<text x="314.70" y="603.50" font-size="10.3" text-anchor="middle" font-weight="normal" fill="#231f20" stroke="#231f20" stroke-width="0.3" >CLP</text>
<line x1="353.50" y1="586.40" x2="353.50" y2="592.00" stroke="#231f20" stroke-width="1.0" />
<text x="353.90" y="603.50" font-size="10.3" text-anchor="middle" font-weight="normal" fill="#231f20" stroke="#231f20" stroke-width="0.3" >GMP</text>
<line x1="392.50" y1="586.40" x2="392.50" y2="592.00" stroke="#231f20" stroke-width="1.0" />
<text x="392.60" y="603.50" font-size="10.3" text-anchor="middle" font-weight="normal" fill="#231f20" stroke="#231f20" stroke-width="0.3" >MEP</text>
<line x1="431.50" y1="586.40" x2="431.50" y2="592.00" stroke="#231f20" stroke-width="1.0" />
<text x="431.90" y="603.50" font-size="10.3" text-anchor="middle" font-weight="normal" fill="#231f20" stroke="#231f20" stroke-width="0.3" >CMP</text>
<polyline points="303.50,432.00 303.50,424.50 328.50,424.50 328.50,432.00" stroke="#231f20" stroke-width="1.0" fill="none" />
<polyline points="315.50,454.00 315.50,449.50 327.50,449.50 327.50,454.00" stroke="#231f20" stroke-width="1.0" fill="none" />
<polyline points="342.50,432.00 342.50,424.50 366.50,424.50 366.50,432.00" stroke="#231f20" stroke-width="1.0" fill="none" />
<polyline points="354.50,454.00 354.50,449.50 366.50,449.50 366.50,454.00" stroke="#231f20" stroke-width="1.0" fill="none" />
<polyline points="382.50,432.00 382.50,424.50 406.50,424.50 406.50,432.00" stroke="#231f20" stroke-width="1.0" fill="none" />
<polyline points="394.50,454.00 394.50,449.50 406.50,449.50 406.50,454.00" stroke="#231f20" stroke-width="1.0" fill="none" />
<polyline points="421.50,432.00 421.50,424.50 445.50,424.50 445.50,432.00" stroke="#231f20" stroke-width="1.0" fill="none" />
<polyline points="433.50,454.00 433.50,449.50 445.50,449.50 445.50,454.00" stroke="#231f20" stroke-width="1.0" fill="none" />
<text x="302.30" y="420.70" font-size="7.6" text-anchor="start" fill="#231f20" stroke="#231f20" stroke-width="0.2"><tspan font-style="italic">P</tspan>=0.815</text>
<text x="341.50" y="420.70" font-size="7.6" text-anchor="start" fill="#231f20" stroke="#231f20" stroke-width="0.2"><tspan font-style="italic">P</tspan>=0.329</text>
<text x="381.20" y="420.70" font-size="7.6" text-anchor="start" fill="#231f20" stroke="#231f20" stroke-width="0.2"><tspan font-style="italic">P</tspan>=0.415</text>
<text x="420.50" y="420.70" font-size="7.6" text-anchor="start" fill="#231f20" stroke="#231f20" stroke-width="0.2"><tspan font-style="italic">P</tspan>=0.183</text>
<text x="308.90" y="446.40" font-size="7.6" text-anchor="start" fill="#231f20" stroke="#231f20" stroke-width="0.2"><tspan font-style="italic">P</tspan>=0.899</text>
<text x="348.20" y="446.40" font-size="7.6" text-anchor="start" fill="#231f20" stroke="#231f20" stroke-width="0.2"><tspan font-style="italic">P</tspan>=0.287</text>
<text x="387.90" y="446.40" font-size="7.6" text-anchor="start" fill="#231f20" stroke="#231f20" stroke-width="0.2"><tspan font-style="italic">P</tspan>=0.204</text>
<text x="426.90" y="446.40" font-size="7.6" text-anchor="start" fill="#231f20" stroke="#231f20" stroke-width="0.2"><tspan font-style="italic">P</tspan>=0.726</text>
<text x="0" y="0" font-size="10.0" text-anchor="middle" fill="#231f20" stroke="#231f20" stroke-width="0.3" transform="translate(237.60,511.30) rotate(-90)">Absolute number of Progenitor cells</text>
<text x="0" y="0" font-size="10.6" text-anchor="middle" fill="#231f20" stroke="#231f20" stroke-width="0.3" transform="translate(250.40,512.60) rotate(-90)">(per legs of femur and tibia)</text>
<text x="467.80" y="410.70" font-size="16" text-anchor="start" font-weight="bold" fill="#231815" stroke="#231815" stroke-width="0.3" >h</text>
<line x1="527.50" y1="433.40" x2="527.50" y2="585.70" stroke="#231f20" stroke-width="1.0" />
<line x1="521.20" y1="433.50" x2="527.20" y2="433.50" stroke="#231f20" stroke-width="1.0" />
<text x="514.90" y="436.33" font-size="9.8" text-anchor="end" fill="#231f20" stroke="#231f20" stroke-width="0.3">3×10</text>
<text x="519.70" y="433.50" font-size="6.2" text-anchor="end" fill="#231f20" stroke="#231f20" stroke-width="0.15">7</text>
<line x1="521.20" y1="484.50" x2="527.20" y2="484.50" stroke="#231f20" stroke-width="1.0" />
<text x="514.90" y="487.23" font-size="9.8" text-anchor="end" fill="#231f20" stroke="#231f20" stroke-width="0.3">2×10</text>
<text x="519.70" y="484.40" font-size="6.2" text-anchor="end" fill="#231f20" stroke="#231f20" stroke-width="0.15">7</text>
<line x1="521.20" y1="534.50" x2="527.20" y2="534.50" stroke="#231f20" stroke-width="1.0" />
<text x="514.90" y="537.83" font-size="9.8" text-anchor="end" fill="#231f20" stroke="#231f20" stroke-width="0.3">1×10</text>
<text x="519.70" y="535.00" font-size="6.2" text-anchor="end" fill="#231f20" stroke="#231f20" stroke-width="0.15">7</text>
<line x1="521.20" y1="585.50" x2="527.20" y2="585.50" stroke="#231f20" stroke-width="1.0" />
<text x="520.00" y="589.23" font-size="9.8" text-anchor="end" fill="#231f20" stroke="#231f20" stroke-width="0.3">0</text>
<rect x="530.50" y="577.50" width="7.00" height="8.00" fill="none" stroke="#231f20" stroke-width="1.0"/>
<path d="M534.50 575.00 V581.00 M532.40 575.50 H536.60 M532.40 581.50 H536.60" stroke="#231f20" stroke-width="1.0" fill="none"/>
<circle cx="534.00" cy="573.00" r="1.7" stroke="#231f20" stroke-width="0.9" fill="#fff"/>
<circle cx="532.00" cy="576.00" r="1.7" stroke="#231f20" stroke-width="0.9" fill="#fff"/>
<circle cx="536.00" cy="576.00" r="1.7" stroke="#231f20" stroke-width="0.9" fill="#fff"/>
<circle cx="533.00" cy="579.00" r="1.7" stroke="#231f20" stroke-width="0.9" fill="#fff"/>
<circle cx="535.00" cy="580.00" r="1.7" stroke="#231f20" stroke-width="0.9" fill="#fff"/>
<circle cx="534.00" cy="582.00" r="1.7" stroke="#231f20" stroke-width="0.9" fill="#fff"/>
<rect x="540.50" y="577.50" width="8.00" height="8.00" fill="none" stroke="#4a5db0" stroke-width="1.0"/>
<path d="M544.50 574.50 V580.50 M542.10 574.50 H546.90 M542.10 580.50 H546.90" stroke="#4a5db0" stroke-width="1.0" fill="none"/>
<circle cx="545.50" cy="574.00" r="1.7" stroke="#4a5db0" stroke-width="0.9" fill="#fff"/>
<circle cx="542.50" cy="577.00" r="1.7" stroke="#4a5db0" stroke-width="0.9" fill="#fff"/>
<circle cx="546.50" cy="578.00" r="1.7" stroke="#4a5db0" stroke-width="0.9" fill="#fff"/>
<circle cx="543.50" cy="580.00" r="1.7" stroke="#4a5db0" stroke-width="0.9" fill="#fff"/>
<circle cx="545.50" cy="582.00" r="1.7" stroke="#4a5db0" stroke-width="0.9" fill="#fff"/>
<circle cx="544.50" cy="583.00" r="1.7" stroke="#4a5db0" stroke-width="0.9" fill="#fff"/>
<rect x="551.50" y="576.50" width="7.00" height="9.00" fill="none" stroke="#e8252b" stroke-width="1.0"/>
<path d="M555.50 572.50 V580.00 M553.40 572.50 H557.60 M553.40 580.50 H557.60" stroke="#e8252b" stroke-width="1.0" fill="none"/>
<circle cx="555.30" cy="569.00" r="1.7" stroke="#e8252b" stroke-width="0.9" fill="#fff"/>
<circle cx="553.30" cy="575.00" r="1.7" stroke="#e8252b" stroke-width="0.9" fill="#fff"/>
<circle cx="556.80" cy="576.00" r="1.7" stroke="#e8252b" stroke-width="0.9" fill="#fff"/>
<circle cx="554.30" cy="578.00" r="1.7" stroke="#e8252b" stroke-width="0.9" fill="#fff"/>
<circle cx="556.30" cy="580.00" r="1.7" stroke="#e8252b" stroke-width="0.9" fill="#fff"/>
<circle cx="555.00" cy="582.00" r="1.7" stroke="#e8252b" stroke-width="0.9" fill="#fff"/>
<rect x="569.50" y="505.50" width="8.00" height="80.00" fill="none" stroke="#231f20" stroke-width="1.0"/>
<path d="M573.50 495.70 V515.00 M571.10 495.50 H575.90 M571.10 515.50 H575.90" stroke="#231f20" stroke-width="1.0" fill="none"/>
<circle cx="573.50" cy="491.00" r="1.7" stroke="#231f20" stroke-width="0.9" fill="#fff"/>
<circle cx="573.50" cy="494.00" r="1.7" stroke="#231f20" stroke-width="0.9" fill="#fff"/>
<circle cx="572.00" cy="500.00" r="1.7" stroke="#231f20" stroke-width="0.9" fill="#fff"/>
<circle cx="575.00" cy="503.00" r="1.7" stroke="#231f20" stroke-width="0.9" fill="#fff"/>
<circle cx="573.50" cy="514.00" r="1.7" stroke="#231f20" stroke-width="0.9" fill="#fff"/>
<circle cx="573.50" cy="524.00" r="1.7" stroke="#231f20" stroke-width="0.9" fill="#fff"/>
<rect x="580.50" y="511.50" width="7.00" height="74.00" fill="none" stroke="#4a5db0" stroke-width="1.0"/>
<path d="M584.50 493.30 V529.00 M582.40 493.50 H586.60 M582.40 529.50 H586.60" stroke="#4a5db0" stroke-width="1.0" fill="none"/>
<circle cx="584.00" cy="483.10" r="1.7" stroke="#4a5db0" stroke-width="0.9" fill="#fff"/>
<circle cx="584.00" cy="506.00" r="1.7" stroke="#4a5db0" stroke-width="0.9" fill="#fff"/>
<circle cx="584.00" cy="516.00" r="1.7" stroke="#4a5db0" stroke-width="0.9" fill="#fff"/>
<circle cx="582.20" cy="521.00" r="1.7" stroke="#4a5db0" stroke-width="0.9" fill="#fff"/>
<circle cx="585.70" cy="520.00" r="1.7" stroke="#4a5db0" stroke-width="0.9" fill="#fff"/>
<circle cx="584.00" cy="535.70" r="1.7" stroke="#4a5db0" stroke-width="0.9" fill="#fff"/>
<rect x="591.50" y="509.50" width="7.00" height="76.00" fill="none" stroke="#e8252b" stroke-width="1.0"/>
<path d="M595.50 480.20 V537.40 M593.40 480.50 H597.60 M593.40 537.50 H597.60" stroke="#e8252b" stroke-width="1.0" fill="none"/>
<circle cx="595.00" cy="464.00" r="1.7" stroke="#e8252b" stroke-width="0.9" fill="#fff"/>
<circle cx="595.00" cy="485.00" r="1.7" stroke="#e8252b" stroke-width="0.9" fill="#fff"/>
<circle cx="593.00" cy="517.00" r="1.7" stroke="#e8252b" stroke-width="0.9" fill="#fff"/>
<circle cx="596.50" cy="520.00" r="1.7" stroke="#e8252b" stroke-width="0.9" fill="#fff"/>
<circle cx="595.00" cy="527.00" r="1.7" stroke="#e8252b" stroke-width="0.9" fill="#fff"/>
<circle cx="595.00" cy="540.50" r="1.7" stroke="#e8252b" stroke-width="0.9" fill="#fff"/>
<rect x="608.50" y="547.50" width="7.00" height="38.00" fill="none" stroke="#231f20" stroke-width="1.0"/>
<path d="M612.50 533.80 V560.00 M610.40 533.50 H614.60 M610.40 560.50 H614.60" stroke="#231f20" stroke-width="1.0" fill="none"/>
<circle cx="612.00" cy="528.60" r="1.7" stroke="#231f20" stroke-width="0.9" fill="#fff"/>
<circle cx="612.00" cy="534.00" r="1.7" stroke="#231f20" stroke-width="0.9" fill="#fff"/>
<circle cx="611.00" cy="548.00" r="1.7" stroke="#231f20" stroke-width="0.9" fill="#fff"/>
<circle cx="613.00" cy="550.00" r="1.7" stroke="#231f20" stroke-width="0.9" fill="#fff"/>
<circle cx="611.00" cy="561.00" r="1.7" stroke="#231f20" stroke-width="0.9" fill="#fff"/>
<circle cx="613.00" cy="563.00" r="1.7" stroke="#231f20" stroke-width="0.9" fill="#fff"/>
<rect x="619.50" y="545.50" width="7.00" height="40.00" fill="none" stroke="#4a5db0" stroke-width="1.0"/>
<path d="M623.50 531.40 V558.00 M621.40 531.50 H625.60 M621.40 558.50 H625.60" stroke="#4a5db0" stroke-width="1.0" fill="none"/>
<circle cx="621.70" cy="531.40" r="1.7" stroke="#4a5db0" stroke-width="0.9" fill="#fff"/>
<circle cx="624.20" cy="532.00" r="1.7" stroke="#4a5db0" stroke-width="0.9" fill="#fff"/>
<circle cx="623.20" cy="544.50" r="1.7" stroke="#4a5db0" stroke-width="0.9" fill="#fff"/>
<circle cx="622.20" cy="552.00" r="1.7" stroke="#4a5db0" stroke-width="0.9" fill="#fff"/>
<circle cx="623.20" cy="554.00" r="1.7" stroke="#4a5db0" stroke-width="0.9" fill="#fff"/>
<circle cx="623.00" cy="563.60" r="1.7" stroke="#4a5db0" stroke-width="0.9" fill="#fff"/>
<rect x="630.50" y="543.50" width="7.00" height="42.00" fill="none" stroke="#e8252b" stroke-width="1.0"/>
<path d="M634.50 524.80 V560.00 M632.40 524.50 H636.60 M632.40 560.50 H636.60" stroke="#e8252b" stroke-width="1.0" fill="none"/>
<circle cx="634.00" cy="510.50" r="1.7" stroke="#e8252b" stroke-width="0.9" fill="#fff"/>
<circle cx="633.50" cy="539.00" r="1.7" stroke="#e8252b" stroke-width="0.9" fill="#fff"/>
<circle cx="635.00" cy="540.00" r="1.7" stroke="#e8252b" stroke-width="0.9" fill="#fff"/>
<circle cx="632.50" cy="556.00" r="1.7" stroke="#e8252b" stroke-width="0.9" fill="#fff"/>
<circle cx="635.50" cy="556.00" r="1.7" stroke="#e8252b" stroke-width="0.9" fill="#fff"/>
<circle cx="634.00" cy="558.00" r="1.7" stroke="#e8252b" stroke-width="0.9" fill="#fff"/>
<rect x="647.50" y="582.50" width="7.00" height="3.00" fill="none" stroke="#231f20" stroke-width="1.0"/>
<circle cx="648.80" cy="583.50" r="1.7" stroke="#231f20" stroke-width="0.9" fill="#fff"/>
<circle cx="651.50" cy="583.30" r="1.7" stroke="#231f20" stroke-width="0.9" fill="#fff"/>
<circle cx="653.60" cy="583.70" r="1.7" stroke="#231f20" stroke-width="0.9" fill="#fff"/>
<circle cx="649.80" cy="581.10" r="1.7" stroke="#231f20" stroke-width="0.9" fill="#fff"/>
<circle cx="652.40" cy="580.90" r="1.7" stroke="#231f20" stroke-width="0.9" fill="#fff"/>
<rect x="657.50" y="583.50" width="8.00" height="2.00" fill="none" stroke="#4a5db0" stroke-width="1.0"/>
<circle cx="659.80" cy="583.30" r="1.7" stroke="#4a5db0" stroke-width="0.9" fill="#fff"/>
<circle cx="662.20" cy="583.20" r="1.7" stroke="#4a5db0" stroke-width="0.9" fill="#fff"/>
<circle cx="664.40" cy="583.30" r="1.7" stroke="#4a5db0" stroke-width="0.9" fill="#fff"/>
<circle cx="661.00" cy="581.70" r="1.7" stroke="#4a5db0" stroke-width="0.9" fill="#fff"/>
<circle cx="663.40" cy="581.70" r="1.7" stroke="#4a5db0" stroke-width="0.9" fill="#fff"/>
<rect x="668.50" y="582.50" width="8.00" height="3.00" fill="none" stroke="#e8252b" stroke-width="1.0"/>
<circle cx="669.90" cy="583.50" r="1.7" stroke="#e8252b" stroke-width="0.9" fill="#fff"/>
<circle cx="672.50" cy="583.50" r="1.7" stroke="#e8252b" stroke-width="0.9" fill="#fff"/>
<circle cx="675.10" cy="583.50" r="1.7" stroke="#e8252b" stroke-width="0.9" fill="#fff"/>
<circle cx="671.20" cy="581.50" r="1.7" stroke="#e8252b" stroke-width="0.9" fill="#fff"/>
<circle cx="673.80" cy="581.50" r="1.7" stroke="#e8252b" stroke-width="0.9" fill="#fff"/>
<circle cx="672.50" cy="579.30" r="1.7" stroke="#e8252b" stroke-width="0.9" fill="#fff"/>
<line x1="521.20" y1="585.50" x2="680.20" y2="585.50" stroke="#231f20" stroke-width="1.0" />
<line x1="544.50" y1="585.70" x2="544.50" y2="591.20" stroke="#231f20" stroke-width="1.0" />
<text x="544.50" y="602.60" font-size="10.3" text-anchor="middle" font-weight="normal" fill="#231f20" stroke="#231f20" stroke-width="0.3" >Ery</text>
<line x1="584.50" y1="585.70" x2="584.50" y2="591.20" stroke="#231f20" stroke-width="1.0" />
<text x="584.20" y="602.60" font-size="10.3" text-anchor="middle" font-weight="normal" fill="#231f20" stroke="#231f20" stroke-width="0.3" >Myeloid</text>
<line x1="622.50" y1="585.70" x2="622.50" y2="591.20" stroke="#231f20" stroke-width="1.0" />
<text x="622.90" y="602.60" font-size="10.3" text-anchor="middle" font-weight="normal" fill="#231f20" stroke="#231f20" stroke-width="0.3" >T cell</text>
<line x1="661.50" y1="585.70" x2="661.50" y2="591.20" stroke="#231f20" stroke-width="1.0" />
<text x="661.60" y="602.60" font-size="10.3" text-anchor="middle" font-weight="normal" fill="#231f20" stroke="#231f20" stroke-width="0.3" >B cell</text>
<polyline points="533.50,439.90 533.50,433.50 558.50,433.50 558.50,439.90" stroke="#231f20" stroke-width="1.0" fill="none" />
<polyline points="543.50,458.30 543.50,454.50 556.50,454.50 556.50,458.30" stroke="#231f20" stroke-width="1.0" fill="none" />
<polyline points="572.50,439.90 572.50,433.50 597.50,433.50 597.50,439.90" stroke="#231f20" stroke-width="1.0" fill="none" />
<polyline points="583.50,458.30 583.50,454.50 597.50,454.50 597.50,458.30" stroke="#231f20" stroke-width="1.0" fill="none" />
<polyline points="612.50,439.90 612.50,433.50 636.50,433.50 636.50,439.90" stroke="#231f20" stroke-width="1.0" fill="none" />
<polyline points="624.50,458.30 624.50,454.50 636.50,454.50 636.50,458.30" stroke="#231f20" stroke-width="1.0" fill="none" />
<polyline points="651.50,439.90 651.50,433.50 676.50,433.50 676.50,439.90" stroke="#231f20" stroke-width="1.0" fill="none" />
<polyline points="662.50,458.30 662.50,454.50 674.50,454.50 674.50,458.30" stroke="#231f20" stroke-width="1.0" fill="none" />
<text x="532.70" y="428.90" font-size="7.5" text-anchor="start" fill="#231f20" stroke="#231f20" stroke-width="0.2"><tspan font-style="italic">P</tspan>=0.237</text>
<text x="570.40" y="428.90" font-size="7.5" text-anchor="start" fill="#231f20" stroke="#231f20" stroke-width="0.2"><tspan font-style="italic">P</tspan>=0.804</text>
<text x="609.40" y="428.90" font-size="7.5" text-anchor="start" fill="#231f20" stroke="#231f20" stroke-width="0.2"><tspan font-style="italic">P</tspan>=0.343</text>
<text x="650.20" y="428.90" font-size="7.5" text-anchor="start" fill="#231f20" stroke="#231f20" stroke-width="0.2"><tspan font-style="italic">P</tspan>=0.935</text>
<text x="538.40" y="451.00" font-size="7.5" text-anchor="start" fill="#231f20" stroke="#231f20" stroke-width="0.2"><tspan font-style="italic">P</tspan>=0.577</text>
<text x="577.10" y="451.00" font-size="7.5" text-anchor="start" fill="#231f20" stroke="#231f20" stroke-width="0.2"><tspan font-style="italic">P</tspan>=0.893</text>
<text x="617.90" y="451.00" font-size="7.5" text-anchor="start" fill="#231f20" stroke="#231f20" stroke-width="0.2"><tspan font-style="italic">P</tspan>=0.868</text>
<text x="655.00" y="451.00" font-size="7.5" text-anchor="start" fill="#231f20" stroke="#231f20" stroke-width="0.2"><tspan font-style="italic">P</tspan>=0.526</text>
<text x="0" y="0" font-size="9.3" text-anchor="middle" fill="#231f20" stroke="#231f20" stroke-width="0.3" transform="translate(476.60,509.70) rotate(-90)">Absolute number of Lineage cells</text>
<text x="0" y="0" font-size="9.6" text-anchor="middle" fill="#231f20" stroke="#231f20" stroke-width="0.3" transform="translate(488.00,511.50) rotate(-90)">(per legs of femur and tibia)</text>
</svg>
</body></html>
